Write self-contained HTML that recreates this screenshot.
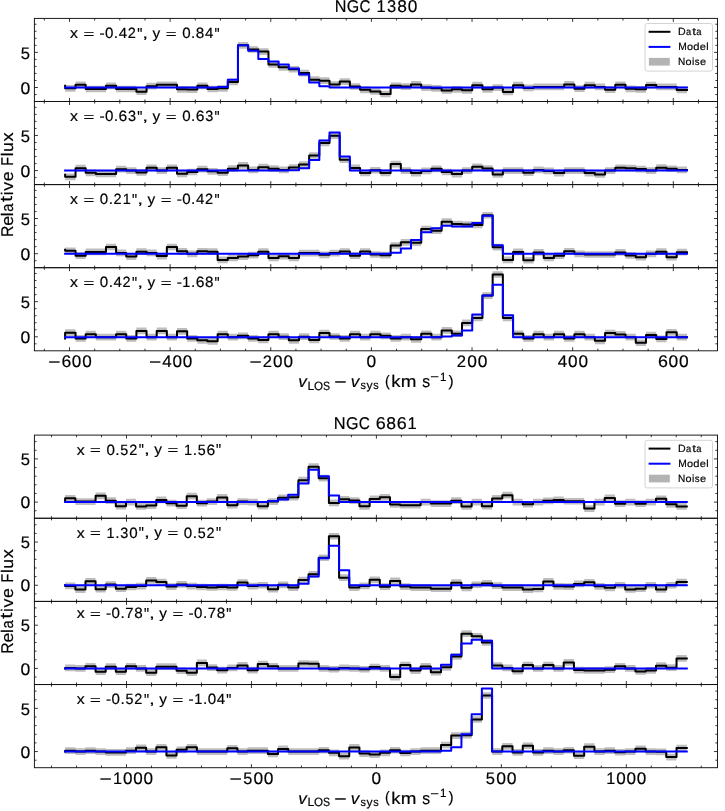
<!DOCTYPE html><html><head><meta charset="utf-8"><style>html,body{margin:0;padding:0;background:#fff;width:725px;height:811px;overflow:hidden;}svg{display:block;will-change:transform;filter:blur(0.3px);text-rendering:geometricPrecision;font-family:"Liberation Sans",sans-serif;}</style></head><body><svg width="725" height="811" viewBox="0 0 725 811">
<rect width="100%" height="100%" fill="#fff"/>
<defs>
<clipPath id="c00"><rect x="34.4" y="18.4" width="683.1" height="83.1"/></clipPath>
<clipPath id="c01"><rect x="34.4" y="101.5" width="683.1" height="83.1"/></clipPath>
<clipPath id="c02"><rect x="34.4" y="184.6" width="683.1" height="83.1"/></clipPath>
<clipPath id="c03"><rect x="34.4" y="267.7" width="683.1" height="83.10000000000002"/></clipPath>
<clipPath id="c10"><rect x="34.4" y="435.1" width="683.1" height="83.14999999999998"/></clipPath>
<clipPath id="c11"><rect x="34.4" y="518.25" width="683.1" height="83.14999999999998"/></clipPath>
<clipPath id="c12"><rect x="34.4" y="601.4" width="683.1" height="83.14999999999998"/></clipPath>
<clipPath id="c13"><rect x="34.4" y="684.55" width="683.1" height="83.15000000000009"/></clipPath>
</defs>
<g clip-path="url(#c00)"><path d="M65.10,84.94H75.55V81.48H85.69V85.64H95.83V85.64H105.97V82.52H116.11V85.64H126.25V85.64H136.40V88.41H146.55V82.86H156.70V81.48H166.85V81.48H177.00V85.98H187.16V86.26H197.32V82.45H207.47V85.64H217.63V84.94H227.80V78.57H237.96V41.98H248.13V46.13H258.29V48.21H268.46V61.17H278.64V63.95H288.81V65.89H298.98V69.70H309.16V76.28H319.34V77.32H329.52V81.13H339.70V78.22H349.89V83.14H360.07V86.47H370.26V88.13H380.45V90.63H390.64V82.38H400.83V83.21H411.03V81.06H421.22V84.25H431.42V84.94H441.62V87.16H451.83V85.98H462.03V87.02H472.23V81.82H482.44V85.98H492.65V84.25H502.86V88.55H513.07V81.82H523.29V84.60H533.51V83.56H543.72V83.56H553.94V83.56H564.17V81.06H574.39V85.29H584.61V81.82H594.84V83.56H605.07V86.33H615.30V81.48H625.53V85.43H635.77V85.98H646.01V81.76H656.24V83.56H666.48V83.56H676.72V86.61H686.97V93.31H676.72V90.26H666.48V90.26H656.24V88.46H646.01V92.68H635.77V92.13H625.53V88.18H615.30V93.03H605.07V90.26H594.84V88.52H584.61V91.99H574.39V87.76H564.17V90.26H553.94V90.26H543.72V90.26H533.51V91.30H523.29V88.52H513.07V95.25H502.86V90.95H492.65V92.68H482.44V88.52H472.23V93.72H462.03V92.68H451.83V93.86H441.62V91.64H431.42V90.95H421.22V87.76H411.03V89.91H400.83V89.08H390.64V97.33H380.45V94.83H370.26V93.17H360.07V89.84H349.89V84.92H339.70V87.83H329.52V84.02H319.34V82.98H309.16V76.40H298.98V72.59H288.81V70.65H278.64V67.87H268.46V54.91H258.29V52.84H248.13V48.68H237.96V85.27H227.80V91.64H217.63V92.34H207.47V89.15H197.32V92.96H187.16V92.68H177.00V88.18H166.85V88.18H156.70V89.56H146.55V95.11H136.40V92.34H126.25V92.34H116.11V89.22H105.97V92.34H95.83V92.34H85.69V88.18H75.55V91.64H65.10Z" fill="#bdbdbd" stroke="none"/><path d="M65.10,85.87V88.29H75.55V84.83H85.69V88.99H95.83V88.99H105.97V85.87H116.11V88.99H126.25V88.99H136.40V91.76H146.55V86.21H156.70V84.83H166.85V84.83H177.00V89.33H187.16V89.61H197.32V85.80H207.47V88.99H217.63V88.29H227.80V81.92H237.96V45.33H248.13V49.48H258.29V51.56H268.46V64.52H278.64V67.30H288.81V69.24H298.98V73.05H309.16V79.63H319.34V80.67H329.52V84.48H339.70V81.57H349.89V86.49H360.07V89.82H370.26V91.48H380.45V93.98H390.64V85.73H400.83V86.56H411.03V84.41H421.22V87.60H431.42V88.29H441.62V90.51H451.83V89.33H462.03V90.37H472.23V85.17H482.44V89.33H492.65V87.60H502.86V91.90H513.07V85.17H523.29V87.95H533.51V86.91H543.72V86.91H553.94V86.91H564.17V84.41H574.39V88.64H584.61V85.17H594.84V86.91H605.07V89.68H615.30V84.83H625.53V88.78H635.77V89.33H646.01V85.11H656.24V86.91H666.48V86.91H676.72V89.96H686.97" fill="none" stroke="#000" stroke-width="2.0" stroke-linejoin="round" stroke-linecap="square"/><path d="M65.10,87.60H75.55V87.60H85.69V87.60H95.83V87.60H105.97V87.60H116.11V87.60H126.25V87.60H136.40V87.60H146.55V87.60H156.70V87.60H166.85V87.60H177.00V87.60H187.16V87.60H197.32V87.60H207.47V87.60H217.63V86.91H227.80V79.63H237.96V45.33H248.13V50.73H258.29V58.98H268.46V61.47H278.64V64.52H288.81V68.54H298.98V74.57H309.16V82.40H319.34V86.21H329.52V87.60H339.70V87.60H349.89V87.60H360.07V87.60H370.26V87.60H380.45V87.60H390.64V87.60H400.83V87.60H411.03V87.60H421.22V87.60H431.42V87.60H441.62V87.60H451.83V87.60H462.03V87.60H472.23V87.60H482.44V87.60H492.65V87.60H502.86V87.60H513.07V87.60H523.29V87.60H533.51V87.60H543.72V87.60H553.94V87.60H564.17V87.60H574.39V87.60H584.61V87.60H594.84V87.60H605.07V87.60H615.30V87.60H625.53V87.60H635.77V87.60H646.01V87.60H656.24V87.60H666.48V87.60H676.72V87.60H686.97" fill="none" stroke="#0000ff" stroke-width="2.0" stroke-linejoin="round" stroke-linecap="square"/></g>
<g clip-path="url(#c01)"><path d="M65.10,173.49H75.55V164.82H85.69V169.47H95.83V170.65H105.97V170.65H116.11V165.86H126.25V167.25H136.40V169.12H146.55V164.48H156.70V167.25H166.85V164.48H177.00V170.51H187.16V168.64H197.32V165.86H207.47V167.94H217.63V169.33H227.80V165.31H237.96V162.05H248.13V166.56H258.29V163.78H268.46V165.31H278.64V166.56H288.81V164.13H298.98V161.22H309.16V152.14H319.34V139.53H329.52V132.39H339.70V156.37H349.89V164.55H360.07V169.54H370.26V166.90H380.45V169.54H390.64V160.74H400.83V167.25H411.03V169.68H421.22V167.60H431.42V165.52H441.62V168.64H451.83V170.72H462.03V167.25H472.23V163.44H482.44V165.17H492.65V171.06H502.86V167.25H513.07V167.25H523.29V169.33H533.51V166.56H543.72V167.60H553.94V169.68H564.17V167.25H574.39V167.25H584.61V169.68H594.84V171.06H605.07V167.25H615.30V164.48H625.53V164.82H635.77V165.73H646.01V167.25H656.24V164.34H666.48V165.38H676.72V166.56H686.97V173.26H676.72V172.08H666.48V171.04H656.24V173.95H646.01V172.43H635.77V171.52H625.53V171.18H615.30V173.95H605.07V177.76H594.84V176.38H584.61V173.95H574.39V173.95H564.17V176.38H553.94V174.30H543.72V173.26H533.51V176.03H523.29V173.95H513.07V173.95H502.86V177.76H492.65V171.87H482.44V170.14H472.23V173.95H462.03V177.41H451.83V175.34H441.62V172.22H431.42V174.30H421.22V176.38H411.03V173.95H400.83V167.44H390.64V176.24H380.45V173.60H370.26V176.24H360.07V171.25H349.89V163.07H339.70V139.09H329.52V146.23H319.34V158.84H309.16V167.92H298.98V170.83H288.81V173.26H278.64V172.01H268.46V170.48H258.29V173.26H248.13V168.75H237.96V172.01H227.80V176.03H217.63V174.64H207.47V172.56H197.32V175.34H187.16V177.21H177.00V171.18H166.85V173.95H156.70V171.18H146.55V175.82H136.40V173.95H126.25V172.56H116.11V177.35H105.97V177.35H95.83V176.17H85.69V171.52H75.55V180.19H65.10Z" fill="#bdbdbd" stroke="none"/><path d="M65.10,174.76V176.84H75.55V168.17H85.69V172.82H95.83V174.00H105.97V174.00H116.11V169.21H126.25V170.60H136.40V172.47H146.55V167.83H156.70V170.60H166.85V167.83H177.00V173.86H187.16V171.99H197.32V169.21H207.47V171.29H217.63V172.68H227.80V168.66H237.96V165.40H248.13V169.91H258.29V167.13H268.46V168.66H278.64V169.91H288.81V167.48H298.98V164.57H309.16V155.49H319.34V142.88H329.52V135.74H339.70V159.72H349.89V167.90H360.07V172.89H370.26V170.25H380.45V172.89H390.64V164.09H400.83V170.60H411.03V173.03H421.22V170.95H431.42V168.87H441.62V171.99H451.83V174.06H462.03V170.60H472.23V166.79H482.44V168.52H492.65V174.41H502.86V170.60H513.07V170.60H523.29V172.68H533.51V169.91H543.72V170.95H553.94V173.03H564.17V170.60H574.39V170.60H584.61V173.03H594.84V174.41H605.07V170.60H615.30V167.83H625.53V168.17H635.77V169.08H646.01V170.60H656.24V167.69H666.48V168.73H676.72V169.91H686.97" fill="none" stroke="#000" stroke-width="2.0" stroke-linejoin="round" stroke-linecap="square"/><path d="M65.10,170.60H75.55V170.60H85.69V170.60H95.83V170.60H105.97V170.60H116.11V170.60H126.25V170.60H136.40V170.60H146.55V170.60H156.70V170.60H166.85V170.60H177.00V170.60H187.16V170.60H197.32V170.60H207.47V170.60H217.63V170.60H227.80V170.60H237.96V170.60H248.13V170.60H258.29V170.60H268.46V170.60H278.64V170.60H288.81V170.25H298.98V168.31H309.16V160.00H319.34V140.59H329.52V132.49H339.70V156.39H349.89V170.60H360.07V170.60H370.26V170.60H380.45V170.60H390.64V170.60H400.83V170.60H411.03V170.60H421.22V170.60H431.42V170.60H441.62V170.60H451.83V170.60H462.03V170.60H472.23V170.60H482.44V170.60H492.65V170.60H502.86V170.60H513.07V170.60H523.29V170.60H533.51V170.60H543.72V170.60H553.94V170.60H564.17V170.60H574.39V170.60H584.61V170.60H594.84V170.60H605.07V170.60H615.30V170.60H625.53V170.60H635.77V170.60H646.01V170.60H656.24V170.60H666.48V170.60H676.72V170.60H686.97" fill="none" stroke="#0000ff" stroke-width="2.0" stroke-linejoin="round" stroke-linecap="square"/></g>
<g clip-path="url(#c02)"><path d="M65.10,247.47H75.55V252.32H85.69V248.58H95.83V248.58H105.97V243.66H116.11V249.62H126.25V253.22H136.40V248.37H146.55V249.62H156.70V252.74H166.85V243.66H177.00V248.02H187.16V250.45H197.32V248.02H207.47V248.37H217.63V256.55H227.80V254.61H237.96V253.22H248.13V251.84H258.29V248.37H268.46V254.61H278.64V252.88H288.81V254.61H298.98V249.76H309.16V249.76H319.34V251.49H329.52V249.76H339.70V248.23H349.89V252.32H360.07V248.23H370.26V251.14H380.45V251.84H390.64V242.13H400.83V239.02H411.03V239.36H421.22V225.64H431.42V227.37H441.62V218.29H451.83V220.65H462.03V221.14H472.23V221.55H482.44V211.92H492.65V243.87H502.86V256.55H513.07V248.58H523.29V256.89H533.51V249.06H543.72V254.61H553.94V252.32H564.17V247.89H574.39V250.45H584.61V251.14H594.84V251.14H605.07V251.14H615.30V249.06H625.53V252.11H635.77V253.91H646.01V250.45H656.24V248.37H666.48V253.91H676.72V248.79H686.97V255.49H676.72V260.62H666.48V255.07H656.24V257.15H646.01V260.62H635.77V258.81H625.53V255.76H615.30V257.84H605.07V257.84H594.84V257.84H584.61V257.15H574.39V254.59H564.17V259.02H553.94V261.31H543.72V255.76H533.51V263.59H523.29V255.28H513.07V263.25H502.86V250.57H492.65V218.62H482.44V228.25H472.23V227.84H462.03V227.35H451.83V224.99H441.62V234.07H431.42V232.34H421.22V246.06H411.03V245.72H400.83V248.83H390.64V258.54H380.45V257.84H370.26V254.93H360.07V259.02H349.89V254.93H339.70V256.46H329.52V258.19H319.34V256.46H309.16V256.46H298.98V261.31H288.81V259.58H278.64V261.31H268.46V255.07H258.29V258.54H248.13V259.92H237.96V261.31H227.80V263.25H217.63V255.07H207.47V254.72H197.32V257.15H187.16V254.72H177.00V250.36H166.85V259.44H156.70V256.32H146.55V255.07H136.40V259.92H126.25V256.32H116.11V250.36H105.97V255.28H95.83V255.28H85.69V259.02H75.55V254.17H65.10Z" fill="#bdbdbd" stroke="none"/><path d="M65.10,249.64V250.82H75.55V255.67H85.69V251.93H95.83V251.93H105.97V247.01H116.11V252.97H126.25V256.57H136.40V251.72H146.55V252.97H156.70V256.09H166.85V247.01H177.00V251.37H187.16V253.80H197.32V251.37H207.47V251.72H217.63V259.90H227.80V257.96H237.96V256.57H248.13V255.19H258.29V251.72H268.46V257.96H278.64V256.23H288.81V257.96H298.98V253.11H309.16V253.11H319.34V254.84H329.52V253.11H339.70V251.58H349.89V255.67H360.07V251.58H370.26V254.49H380.45V255.19H390.64V245.48H400.83V242.37H411.03V242.71H421.22V228.99H431.42V230.72H441.62V221.64H451.83V224.00H462.03V224.49H472.23V224.90H482.44V215.27H492.65V247.22H502.86V259.90H513.07V251.93H523.29V260.24H533.51V252.41H543.72V257.96H553.94V255.67H564.17V251.24H574.39V253.80H584.61V254.49H594.84V254.49H605.07V254.49H615.30V252.41H625.53V255.46H635.77V257.26H646.01V253.80H656.24V251.72H666.48V257.26H676.72V252.14H686.97" fill="none" stroke="#000" stroke-width="2.0" stroke-linejoin="round" stroke-linecap="square"/><path d="M65.10,253.80H75.55V253.80H85.69V253.80H95.83V253.80H105.97V253.80H116.11V253.80H126.25V253.80H136.40V253.80H146.55V253.80H156.70V253.80H166.85V253.80H177.00V253.80H187.16V253.80H197.32V253.80H207.47V253.80H217.63V253.80H227.80V253.80H237.96V253.80H248.13V253.80H258.29V253.80H268.46V253.80H278.64V253.80H288.81V253.80H298.98V253.80H309.16V253.80H319.34V253.80H329.52V253.80H339.70V253.80H349.89V253.80H360.07V253.80H370.26V253.80H380.45V253.80H390.64V252.76H400.83V248.39H411.03V240.08H421.22V232.32H431.42V228.23H441.62V225.66H451.83V226.50H462.03V226.50H472.23V222.89H482.44V215.82H492.65V245.21H502.86V253.80H513.07V253.80H523.29V253.80H533.51V253.80H543.72V253.80H553.94V253.80H564.17V253.80H574.39V253.80H584.61V253.80H594.84V253.80H605.07V253.80H615.30V253.80H625.53V253.80H635.77V253.80H646.01V253.80H656.24V253.80H666.48V253.80H676.72V253.80H686.97" fill="none" stroke="#0000ff" stroke-width="2.0" stroke-linejoin="round" stroke-linecap="square"/></g>
<g clip-path="url(#c03)"><path d="M65.10,329.35H75.55V335.03H85.69V330.87H95.83V333.85H105.97V333.85H116.11V330.87H126.25V335.03H136.40V327.61H146.55V333.85H156.70V327.61H166.85V333.85H177.00V327.96H187.16V335.03H197.32V336.97H207.47V338.01H217.63V330.87H227.80V333.85H237.96V332.46H248.13V335.03H258.29V336.62H268.46V330.87H278.64V333.36H288.81V336.97H298.98V333.36H309.16V336.62H319.34V329.69H329.52V333.16H339.70V335.03H349.89V330.87H360.07V333.85H370.26V330.87H380.45V332.46H390.64V335.03H400.83V333.85H411.03V335.93H421.22V330.38H431.42V333.85H441.62V327.06H451.83V330.38H462.03V319.57H472.23V314.58H482.44V292.27H492.65V271.13H502.86V314.58H513.07V330.38H523.29V335.03H533.51V330.87H543.72V333.85H553.94V330.87H564.17V335.03H574.39V330.87H584.61V333.85H594.84V337.45H605.07V329.69H615.30V331.08H625.53V333.85H635.77V339.39H646.01V331.77H656.24V335.58H666.48V329.00H676.72V333.85H686.97V340.55H676.72V335.70H666.48V342.28H656.24V338.47H646.01V346.09H635.77V340.55H625.53V337.78H615.30V336.39H605.07V344.15H594.84V340.55H584.61V337.57H574.39V341.73H564.17V337.57H553.94V340.55H543.72V337.57H533.51V341.73H523.29V337.09H513.07V321.28H502.86V277.83H492.65V298.97H482.44V321.28H472.23V326.27H462.03V337.09H451.83V333.76H441.62V340.55H431.42V337.09H421.22V342.63H411.03V340.55H400.83V341.73H390.64V339.16H380.45V337.57H370.26V340.55H360.07V337.57H349.89V341.73H339.70V339.86H329.52V336.39H319.34V343.32H309.16V340.06H298.98V343.67H288.81V340.06H278.64V337.57H268.46V343.32H258.29V341.73H248.13V339.16H237.96V340.55H227.80V337.57H217.63V344.71H207.47V343.67H197.32V341.73H187.16V334.66H177.00V340.55H166.85V334.31H156.70V340.55H146.55V334.31H136.40V341.73H126.25V337.57H116.11V340.55H105.97V340.55H95.83V337.57H85.69V341.73H75.55V336.05H65.10Z" fill="#bdbdbd" stroke="none"/><path d="M65.10,338.59V332.70H75.55V338.38H85.69V334.22H95.83V337.20H105.97V337.20H116.11V334.22H126.25V338.38H136.40V330.96H146.55V337.20H156.70V330.96H166.85V337.20H177.00V331.31H187.16V338.38H197.32V340.32H207.47V341.36H217.63V334.22H227.80V337.20H237.96V335.81H248.13V338.38H258.29V339.97H268.46V334.22H278.64V336.71H288.81V340.32H298.98V336.71H309.16V339.97H319.34V333.04H329.52V336.51H339.70V338.38H349.89V334.22H360.07V337.20H370.26V334.22H380.45V335.81H390.64V338.38H400.83V337.20H411.03V339.28H421.22V333.74H431.42V337.20H441.62V330.41H451.83V333.74H462.03V322.92H472.23V317.93H482.44V295.62H492.65V274.48H502.86V317.93H513.07V333.74H523.29V338.38H533.51V334.22H543.72V337.20H553.94V334.22H564.17V338.38H574.39V334.22H584.61V337.20H594.84V340.80H605.07V333.04H615.30V334.43H625.53V337.20H635.77V342.74H646.01V335.12H656.24V338.93H666.48V332.35H676.72V337.20H686.97" fill="none" stroke="#000" stroke-width="2.0" stroke-linejoin="round" stroke-linecap="square"/><path d="M65.10,337.20H75.55V337.20H85.69V337.20H95.83V337.20H105.97V337.20H116.11V337.20H126.25V337.20H136.40V337.20H146.55V337.20H156.70V337.20H166.85V337.20H177.00V337.20H187.16V337.20H197.32V337.20H207.47V337.20H217.63V337.20H227.80V337.20H237.96V337.20H248.13V337.20H258.29V337.20H268.46V337.20H278.64V337.20H288.81V337.20H298.98V337.20H309.16V337.20H319.34V337.20H329.52V337.20H339.70V337.20H349.89V337.20H360.07V337.20H370.26V337.20H380.45V337.20H390.64V337.20H400.83V337.20H411.03V337.20H421.22V337.20H431.42V337.20H441.62V336.51H451.83V335.47H462.03V330.41H472.23V314.61H482.44V295.62H492.65V284.81H502.86V315.37H513.07V337.20H523.29V337.20H533.51V337.20H543.72V337.20H553.94V337.20H564.17V337.20H574.39V337.20H584.61V337.20H594.84V337.20H605.07V337.20H615.30V337.20H625.53V337.20H635.77V337.20H646.01V337.20H656.24V337.20H666.48V337.20H676.72V337.20H686.97" fill="none" stroke="#0000ff" stroke-width="2.0" stroke-linejoin="round" stroke-linecap="square"/></g>
<path d="M44.34,101.5v-2.1M44.34,18.4v2.1M69.50,101.5v-3.5M69.50,18.4v3.5M94.66,101.5v-2.1M94.66,18.4v2.1M119.81,101.5v-2.1M119.81,18.4v2.1M144.97,101.5v-2.1M144.97,18.4v2.1M170.13,101.5v-3.5M170.13,18.4v3.5M195.29,101.5v-2.1M195.29,18.4v2.1M220.45,101.5v-2.1M220.45,18.4v2.1M245.61,101.5v-2.1M245.61,18.4v2.1M270.77,101.5v-3.5M270.77,18.4v3.5M295.92,101.5v-2.1M295.92,18.4v2.1M321.08,101.5v-2.1M321.08,18.4v2.1M346.24,101.5v-2.1M346.24,18.4v2.1M371.40,101.5v-3.5M371.40,18.4v3.5M396.56,101.5v-2.1M396.56,18.4v2.1M421.72,101.5v-2.1M421.72,18.4v2.1M446.88,101.5v-2.1M446.88,18.4v2.1M472.03,101.5v-3.5M472.03,18.4v3.5M497.19,101.5v-2.1M497.19,18.4v2.1M522.35,101.5v-2.1M522.35,18.4v2.1M547.51,101.5v-2.1M547.51,18.4v2.1M572.67,101.5v-3.5M572.67,18.4v3.5M597.83,101.5v-2.1M597.83,18.4v2.1M622.99,101.5v-2.1M622.99,18.4v2.1M648.14,101.5v-2.1M648.14,18.4v2.1M673.30,101.5v-3.5M673.30,18.4v3.5M698.46,101.5v-2.1M698.46,18.4v2.1M34.4,94.53h2.1M717.5,94.53h-2.1M34.4,87.50h3.5M717.5,87.50h-3.5M34.4,80.47h2.1M717.5,80.47h-2.1M34.4,73.44h2.1M717.5,73.44h-2.1M34.4,66.41h2.1M717.5,66.41h-2.1M34.4,59.38h2.1M717.5,59.38h-2.1M34.4,52.35h3.5M717.5,52.35h-3.5M34.4,45.32h2.1M717.5,45.32h-2.1M34.4,38.29h2.1M717.5,38.29h-2.1M34.4,31.26h2.1M717.5,31.26h-2.1M34.4,24.23h2.1M717.5,24.23h-2.1M44.34,184.6v-2.1M44.34,101.5v2.1M69.50,184.6v-3.5M69.50,101.5v3.5M94.66,184.6v-2.1M94.66,101.5v2.1M119.81,184.6v-2.1M119.81,101.5v2.1M144.97,184.6v-2.1M144.97,101.5v2.1M170.13,184.6v-3.5M170.13,101.5v3.5M195.29,184.6v-2.1M195.29,101.5v2.1M220.45,184.6v-2.1M220.45,101.5v2.1M245.61,184.6v-2.1M245.61,101.5v2.1M270.77,184.6v-3.5M270.77,101.5v3.5M295.92,184.6v-2.1M295.92,101.5v2.1M321.08,184.6v-2.1M321.08,101.5v2.1M346.24,184.6v-2.1M346.24,101.5v2.1M371.40,184.6v-3.5M371.40,101.5v3.5M396.56,184.6v-2.1M396.56,101.5v2.1M421.72,184.6v-2.1M421.72,101.5v2.1M446.88,184.6v-2.1M446.88,101.5v2.1M472.03,184.6v-3.5M472.03,101.5v3.5M497.19,184.6v-2.1M497.19,101.5v2.1M522.35,184.6v-2.1M522.35,101.5v2.1M547.51,184.6v-2.1M547.51,101.5v2.1M572.67,184.6v-3.5M572.67,101.5v3.5M597.83,184.6v-2.1M597.83,101.5v2.1M622.99,184.6v-2.1M622.99,101.5v2.1M648.14,184.6v-2.1M648.14,101.5v2.1M673.30,184.6v-3.5M673.30,101.5v3.5M698.46,184.6v-2.1M698.46,101.5v2.1M34.4,177.63h2.1M717.5,177.63h-2.1M34.4,170.60h3.5M717.5,170.60h-3.5M34.4,163.57h2.1M717.5,163.57h-2.1M34.4,156.54h2.1M717.5,156.54h-2.1M34.4,149.51h2.1M717.5,149.51h-2.1M34.4,142.48h2.1M717.5,142.48h-2.1M34.4,135.45h3.5M717.5,135.45h-3.5M34.4,128.42h2.1M717.5,128.42h-2.1M34.4,121.39h2.1M717.5,121.39h-2.1M34.4,114.36h2.1M717.5,114.36h-2.1M34.4,107.33h2.1M717.5,107.33h-2.1M44.34,267.7v-2.1M44.34,184.6v2.1M69.50,267.7v-3.5M69.50,184.6v3.5M94.66,267.7v-2.1M94.66,184.6v2.1M119.81,267.7v-2.1M119.81,184.6v2.1M144.97,267.7v-2.1M144.97,184.6v2.1M170.13,267.7v-3.5M170.13,184.6v3.5M195.29,267.7v-2.1M195.29,184.6v2.1M220.45,267.7v-2.1M220.45,184.6v2.1M245.61,267.7v-2.1M245.61,184.6v2.1M270.77,267.7v-3.5M270.77,184.6v3.5M295.92,267.7v-2.1M295.92,184.6v2.1M321.08,267.7v-2.1M321.08,184.6v2.1M346.24,267.7v-2.1M346.24,184.6v2.1M371.40,267.7v-3.5M371.40,184.6v3.5M396.56,267.7v-2.1M396.56,184.6v2.1M421.72,267.7v-2.1M421.72,184.6v2.1M446.88,267.7v-2.1M446.88,184.6v2.1M472.03,267.7v-3.5M472.03,184.6v3.5M497.19,267.7v-2.1M497.19,184.6v2.1M522.35,267.7v-2.1M522.35,184.6v2.1M547.51,267.7v-2.1M547.51,184.6v2.1M572.67,267.7v-3.5M572.67,184.6v3.5M597.83,267.7v-2.1M597.83,184.6v2.1M622.99,267.7v-2.1M622.99,184.6v2.1M648.14,267.7v-2.1M648.14,184.6v2.1M673.30,267.7v-3.5M673.30,184.6v3.5M698.46,267.7v-2.1M698.46,184.6v2.1M34.4,260.73h2.1M717.5,260.73h-2.1M34.4,253.70h3.5M717.5,253.70h-3.5M34.4,246.67h2.1M717.5,246.67h-2.1M34.4,239.64h2.1M717.5,239.64h-2.1M34.4,232.61h2.1M717.5,232.61h-2.1M34.4,225.58h2.1M717.5,225.58h-2.1M34.4,218.55h3.5M717.5,218.55h-3.5M34.4,211.52h2.1M717.5,211.52h-2.1M34.4,204.49h2.1M717.5,204.49h-2.1M34.4,197.46h2.1M717.5,197.46h-2.1M34.4,190.43h2.1M717.5,190.43h-2.1M44.34,350.8v-2.1M44.34,267.7v2.1M69.50,350.8v-3.5M69.50,267.7v3.5M94.66,350.8v-2.1M94.66,267.7v2.1M119.81,350.8v-2.1M119.81,267.7v2.1M144.97,350.8v-2.1M144.97,267.7v2.1M170.13,350.8v-3.5M170.13,267.7v3.5M195.29,350.8v-2.1M195.29,267.7v2.1M220.45,350.8v-2.1M220.45,267.7v2.1M245.61,350.8v-2.1M245.61,267.7v2.1M270.77,350.8v-3.5M270.77,267.7v3.5M295.92,350.8v-2.1M295.92,267.7v2.1M321.08,350.8v-2.1M321.08,267.7v2.1M346.24,350.8v-2.1M346.24,267.7v2.1M371.40,350.8v-3.5M371.40,267.7v3.5M396.56,350.8v-2.1M396.56,267.7v2.1M421.72,350.8v-2.1M421.72,267.7v2.1M446.88,350.8v-2.1M446.88,267.7v2.1M472.03,350.8v-3.5M472.03,267.7v3.5M497.19,350.8v-2.1M497.19,267.7v2.1M522.35,350.8v-2.1M522.35,267.7v2.1M547.51,350.8v-2.1M547.51,267.7v2.1M572.67,350.8v-3.5M572.67,267.7v3.5M597.83,350.8v-2.1M597.83,267.7v2.1M622.99,350.8v-2.1M622.99,267.7v2.1M648.14,350.8v-2.1M648.14,267.7v2.1M673.30,350.8v-3.5M673.30,267.7v3.5M698.46,350.8v-2.1M698.46,267.7v2.1M34.4,343.83h2.1M717.5,343.83h-2.1M34.4,336.80h3.5M717.5,336.80h-3.5M34.4,329.77h2.1M717.5,329.77h-2.1M34.4,322.74h2.1M717.5,322.74h-2.1M34.4,315.71h2.1M717.5,315.71h-2.1M34.4,308.68h2.1M717.5,308.68h-2.1M34.4,301.65h3.5M717.5,301.65h-3.5M34.4,294.62h2.1M717.5,294.62h-2.1M34.4,287.59h2.1M717.5,287.59h-2.1M34.4,280.56h2.1M717.5,280.56h-2.1M34.4,273.53h2.1M717.5,273.53h-2.1" stroke="#111" stroke-width="0.85" fill="none"/>
<rect x="34.4" y="18.4" width="683.1" height="83.1" fill="none" stroke="#111" stroke-width="0.95"/>
<rect x="34.4" y="101.5" width="683.1" height="83.1" fill="none" stroke="#111" stroke-width="0.95"/>
<rect x="34.4" y="184.6" width="683.1" height="83.1" fill="none" stroke="#111" stroke-width="0.95"/>
<rect x="34.4" y="267.7" width="683.1" height="83.10000000000002" fill="none" stroke="#111" stroke-width="0.95"/>
<rect x="645.0" y="23.50" width="67.5" height="47.6" rx="2.2" fill="#fff" fill-opacity="0.8" stroke="#d4d4d4" stroke-width="1"/>
<path d="M648.6,31.80H670.4" stroke="#000" stroke-width="2.0"/>
<path d="M648.6,46.90H670.4" stroke="#0000ff" stroke-width="2.0"/>
<rect x="648.9" y="57.90" width="20.9" height="7.7" fill="#b3b3b3"/>
<text transform="translate(678.02,35.30) scale(0.1062,0.1041)" style="font-size:100px" fill="#000" stroke="#000" stroke-width="1.71">D</text>
<text transform="translate(686.03,35.34) scale(0.0927,0.1029)" style="font-size:100px" fill="#000" stroke="#000" stroke-width="1.84">a</text>
<text transform="translate(692.18,35.22) scale(0.1370,0.1055)" style="font-size:100px" fill="#000" stroke="#000" stroke-width="1.50">t</text>
<text transform="translate(696.35,35.34) scale(0.0927,0.1029)" style="font-size:100px" fill="#000" stroke="#000" stroke-width="1.84">a</text>
<text transform="translate(678.16,49.90) scale(0.1024,0.1041)" style="font-size:100px" fill="#000" stroke="#000" stroke-width="1.74">M</text>
<text transform="translate(686.94,49.94) scale(0.1089,0.1029)" style="font-size:100px" fill="#000" stroke="#000" stroke-width="1.70">o</text>
<text transform="translate(693.19,49.94) scale(0.1115,0.1033)" style="font-size:100px" fill="#000" stroke="#000" stroke-width="1.68">d</text>
<text transform="translate(699.70,49.94) scale(0.1106,0.1029)" style="font-size:100px" fill="#000" stroke="#000" stroke-width="1.69">e</text>
<text transform="translate(706.17,49.90) scale(0.1053,0.1027)" style="font-size:100px" fill="#000" stroke="#000" stroke-width="1.73">l</text>
<text transform="translate(678.07,64.90) scale(0.1009,0.1041)" style="font-size:100px" fill="#000" stroke="#000" stroke-width="1.76">N</text>
<text transform="translate(685.62,64.94) scale(0.1082,0.1029)" style="font-size:100px" fill="#000" stroke="#000" stroke-width="1.71">o</text>
<text transform="translate(692.01,64.90) scale(0.1047,0.1027)" style="font-size:100px" fill="#000" stroke="#000" stroke-width="1.74">i</text>
<text transform="translate(694.87,64.94) scale(0.0971,0.1029)" style="font-size:100px" fill="#000" stroke="#000" stroke-width="1.80">s</text>
<text transform="translate(699.97,64.94) scale(0.1099,0.1029)" style="font-size:100px" fill="#000" stroke="#000" stroke-width="1.69">e</text>
<text transform="translate(334.76,11.80) scale(0.1621,0.1699)" style="font-size:100px" fill="#000" stroke="#000" stroke-width="1.08">N</text>
<text transform="translate(346.84,11.87) scale(0.1598,0.1713)" style="font-size:100px" fill="#000" stroke="#000" stroke-width="1.09">G</text>
<text transform="translate(359.56,11.87) scale(0.1526,0.1713)" style="font-size:100px" fill="#000" stroke="#000" stroke-width="1.11">C</text>
<text transform="translate(376.61,11.80) scale(0.1646,0.1699)" style="font-size:100px" fill="#000" stroke="#000" stroke-width="1.08">1</text>
<text transform="translate(387.06,11.87) scale(0.1653,0.1713)" style="font-size:100px" fill="#000" stroke="#000" stroke-width="1.07">3</text>
<text transform="translate(397.23,11.87) scale(0.1740,0.1713)" style="font-size:100px" fill="#000" stroke="#000" stroke-width="1.04">8</text>
<text transform="translate(407.65,11.87) scale(0.1730,0.1713)" style="font-size:100px" fill="#000" stroke="#000" stroke-width="1.05">0</text>
<text transform="translate(70.00,38.20) scale(0.1593,0.1453)" style="font-size:100px" fill="#000" stroke="#000" stroke-width="1.18">x</text>
<text transform="translate(83.39,37.84) scale(0.1855,0.1226)" style="font-size:100px" fill="#000" stroke="#000" stroke-width="1.19">=</text>
<text transform="translate(99.41,38.20) scale(0.1552,0.1445)" style="font-size:100px" fill="#000" stroke="#000" stroke-width="1.20">-</text>
<text transform="translate(104.89,38.26) scale(0.1517,0.1499)" style="font-size:100px" fill="#000" stroke="#000" stroke-width="1.19">0</text>
<text transform="translate(113.80,38.20) scale(0.1547,0.1628)" style="font-size:100px" fill="#000" stroke="#000" stroke-width="1.13">.</text>
<text transform="translate(118.63,38.20) scale(0.1505,0.1487)" style="font-size:100px" fill="#000" stroke="#000" stroke-width="1.20">4</text>
<text transform="translate(127.68,38.20) scale(0.1458,0.1490)" style="font-size:100px" fill="#000" stroke="#000" stroke-width="1.22">2</text>
<text transform="translate(137.25,39.93) scale(0.1434,0.1738)" style="font-size:100px" fill="#000" stroke="#000" stroke-width="1.14">&quot;</text>
<text transform="translate(142.32,37.99) scale(0.2096,0.1430)" style="font-size:100px" fill="#000" stroke="#000" stroke-width="1.04">,</text>
<text transform="translate(152.60,38.12) scale(0.1543,0.1438)" style="font-size:100px" fill="#000" stroke="#000" stroke-width="1.21">y</text>
<text transform="translate(165.84,37.84) scale(0.1855,0.1226)" style="font-size:100px" fill="#000" stroke="#000" stroke-width="1.19">=</text>
<text transform="translate(182.16,38.26) scale(0.1517,0.1499)" style="font-size:100px" fill="#000" stroke="#000" stroke-width="1.19">0</text>
<text transform="translate(191.07,38.20) scale(0.1547,0.1628)" style="font-size:100px" fill="#000" stroke="#000" stroke-width="1.13">.</text>
<text transform="translate(195.84,38.26) scale(0.1526,0.1499)" style="font-size:100px" fill="#000" stroke="#000" stroke-width="1.19">8</text>
<text transform="translate(205.02,38.20) scale(0.1505,0.1487)" style="font-size:100px" fill="#000" stroke="#000" stroke-width="1.20">4</text>
<text transform="translate(214.52,39.93) scale(0.1434,0.1738)" style="font-size:100px" fill="#000" stroke="#000" stroke-width="1.14">&quot;</text>
<text transform="translate(70.00,121.30) scale(0.1593,0.1453)" style="font-size:100px" fill="#000" stroke="#000" stroke-width="1.18">x</text>
<text transform="translate(83.39,120.94) scale(0.1855,0.1226)" style="font-size:100px" fill="#000" stroke="#000" stroke-width="1.19">=</text>
<text transform="translate(99.41,121.30) scale(0.1552,0.1445)" style="font-size:100px" fill="#000" stroke="#000" stroke-width="1.20">-</text>
<text transform="translate(104.89,121.36) scale(0.1517,0.1499)" style="font-size:100px" fill="#000" stroke="#000" stroke-width="1.19">0</text>
<text transform="translate(113.80,121.30) scale(0.1547,0.1628)" style="font-size:100px" fill="#000" stroke="#000" stroke-width="1.13">.</text>
<text transform="translate(118.47,121.36) scale(0.1558,0.1499)" style="font-size:100px" fill="#000" stroke="#000" stroke-width="1.18">6</text>
<text transform="translate(127.91,121.36) scale(0.1449,0.1499)" style="font-size:100px" fill="#000" stroke="#000" stroke-width="1.22">3</text>
<text transform="translate(137.25,123.03) scale(0.1434,0.1738)" style="font-size:100px" fill="#000" stroke="#000" stroke-width="1.14">&quot;</text>
<text transform="translate(142.32,121.09) scale(0.2096,0.1430)" style="font-size:100px" fill="#000" stroke="#000" stroke-width="1.04">,</text>
<text transform="translate(152.60,121.22) scale(0.1543,0.1438)" style="font-size:100px" fill="#000" stroke="#000" stroke-width="1.21">y</text>
<text transform="translate(165.84,120.94) scale(0.1855,0.1226)" style="font-size:100px" fill="#000" stroke="#000" stroke-width="1.19">=</text>
<text transform="translate(182.16,121.36) scale(0.1517,0.1499)" style="font-size:100px" fill="#000" stroke="#000" stroke-width="1.19">0</text>
<text transform="translate(191.07,121.30) scale(0.1547,0.1628)" style="font-size:100px" fill="#000" stroke="#000" stroke-width="1.13">.</text>
<text transform="translate(195.74,121.36) scale(0.1558,0.1499)" style="font-size:100px" fill="#000" stroke="#000" stroke-width="1.18">6</text>
<text transform="translate(205.17,121.36) scale(0.1449,0.1499)" style="font-size:100px" fill="#000" stroke="#000" stroke-width="1.22">3</text>
<text transform="translate(214.52,123.03) scale(0.1434,0.1738)" style="font-size:100px" fill="#000" stroke="#000" stroke-width="1.14">&quot;</text>
<text transform="translate(70.00,204.20) scale(0.1593,0.1453)" style="font-size:100px" fill="#000" stroke="#000" stroke-width="1.18">x</text>
<text transform="translate(83.39,203.84) scale(0.1855,0.1226)" style="font-size:100px" fill="#000" stroke="#000" stroke-width="1.19">=</text>
<text transform="translate(99.72,204.26) scale(0.1517,0.1499)" style="font-size:100px" fill="#000" stroke="#000" stroke-width="1.19">0</text>
<text transform="translate(108.63,204.20) scale(0.1547,0.1628)" style="font-size:100px" fill="#000" stroke="#000" stroke-width="1.13">.</text>
<text transform="translate(113.38,204.20) scale(0.1458,0.1490)" style="font-size:100px" fill="#000" stroke="#000" stroke-width="1.22">2</text>
<text transform="translate(122.69,204.20) scale(0.1442,0.1487)" style="font-size:100px" fill="#000" stroke="#000" stroke-width="1.23">1</text>
<text transform="translate(132.08,205.93) scale(0.1434,0.1738)" style="font-size:100px" fill="#000" stroke="#000" stroke-width="1.14">&quot;</text>
<text transform="translate(137.14,203.99) scale(0.2096,0.1430)" style="font-size:100px" fill="#000" stroke="#000" stroke-width="1.04">,</text>
<text transform="translate(147.43,204.12) scale(0.1543,0.1438)" style="font-size:100px" fill="#000" stroke="#000" stroke-width="1.21">y</text>
<text transform="translate(160.66,203.84) scale(0.1855,0.1226)" style="font-size:100px" fill="#000" stroke="#000" stroke-width="1.19">=</text>
<text transform="translate(176.68,204.20) scale(0.1552,0.1445)" style="font-size:100px" fill="#000" stroke="#000" stroke-width="1.20">-</text>
<text transform="translate(182.16,204.26) scale(0.1517,0.1499)" style="font-size:100px" fill="#000" stroke="#000" stroke-width="1.19">0</text>
<text transform="translate(191.07,204.20) scale(0.1547,0.1628)" style="font-size:100px" fill="#000" stroke="#000" stroke-width="1.13">.</text>
<text transform="translate(195.89,204.20) scale(0.1505,0.1487)" style="font-size:100px" fill="#000" stroke="#000" stroke-width="1.20">4</text>
<text transform="translate(204.95,204.20) scale(0.1458,0.1490)" style="font-size:100px" fill="#000" stroke="#000" stroke-width="1.22">2</text>
<text transform="translate(214.52,205.93) scale(0.1434,0.1738)" style="font-size:100px" fill="#000" stroke="#000" stroke-width="1.14">&quot;</text>
<text transform="translate(70.00,287.20) scale(0.1593,0.1453)" style="font-size:100px" fill="#000" stroke="#000" stroke-width="1.18">x</text>
<text transform="translate(83.39,286.84) scale(0.1855,0.1226)" style="font-size:100px" fill="#000" stroke="#000" stroke-width="1.19">=</text>
<text transform="translate(99.72,287.26) scale(0.1517,0.1499)" style="font-size:100px" fill="#000" stroke="#000" stroke-width="1.19">0</text>
<text transform="translate(108.63,287.20) scale(0.1547,0.1628)" style="font-size:100px" fill="#000" stroke="#000" stroke-width="1.13">.</text>
<text transform="translate(113.45,287.20) scale(0.1505,0.1487)" style="font-size:100px" fill="#000" stroke="#000" stroke-width="1.20">4</text>
<text transform="translate(122.51,287.20) scale(0.1458,0.1490)" style="font-size:100px" fill="#000" stroke="#000" stroke-width="1.22">2</text>
<text transform="translate(132.08,288.93) scale(0.1434,0.1738)" style="font-size:100px" fill="#000" stroke="#000" stroke-width="1.14">&quot;</text>
<text transform="translate(137.14,286.99) scale(0.2096,0.1430)" style="font-size:100px" fill="#000" stroke="#000" stroke-width="1.04">,</text>
<text transform="translate(147.43,287.12) scale(0.1543,0.1438)" style="font-size:100px" fill="#000" stroke="#000" stroke-width="1.21">y</text>
<text transform="translate(160.66,286.84) scale(0.1855,0.1226)" style="font-size:100px" fill="#000" stroke="#000" stroke-width="1.19">=</text>
<text transform="translate(176.68,287.20) scale(0.1552,0.1445)" style="font-size:100px" fill="#000" stroke="#000" stroke-width="1.20">-</text>
<text transform="translate(182.33,287.20) scale(0.1442,0.1487)" style="font-size:100px" fill="#000" stroke="#000" stroke-width="1.23">1</text>
<text transform="translate(191.07,287.20) scale(0.1547,0.1628)" style="font-size:100px" fill="#000" stroke="#000" stroke-width="1.13">.</text>
<text transform="translate(195.74,287.26) scale(0.1558,0.1499)" style="font-size:100px" fill="#000" stroke="#000" stroke-width="1.18">6</text>
<text transform="translate(204.96,287.26) scale(0.1526,0.1499)" style="font-size:100px" fill="#000" stroke="#000" stroke-width="1.19">8</text>
<text transform="translate(214.52,288.93) scale(0.1434,0.1738)" style="font-size:100px" fill="#000" stroke="#000" stroke-width="1.14">&quot;</text>
<text transform="translate(20.50,93.67) scale(0.1759,0.1670)" style="font-size:100px" fill="#000" stroke="#000" stroke-width="1.05">0</text>
<text transform="translate(20.83,58.62) scale(0.1663,0.1666)" style="font-size:100px" fill="#000" stroke="#000" stroke-width="1.08">5</text>
<text transform="translate(20.50,176.77) scale(0.1759,0.1670)" style="font-size:100px" fill="#000" stroke="#000" stroke-width="1.05">0</text>
<text transform="translate(20.83,141.72) scale(0.1663,0.1666)" style="font-size:100px" fill="#000" stroke="#000" stroke-width="1.08">5</text>
<text transform="translate(20.50,259.87) scale(0.1759,0.1670)" style="font-size:100px" fill="#000" stroke="#000" stroke-width="1.05">0</text>
<text transform="translate(20.83,224.82) scale(0.1663,0.1666)" style="font-size:100px" fill="#000" stroke="#000" stroke-width="1.08">5</text>
<text transform="translate(20.50,342.97) scale(0.1759,0.1670)" style="font-size:100px" fill="#000" stroke="#000" stroke-width="1.05">0</text>
<text transform="translate(20.83,307.92) scale(0.1663,0.1666)" style="font-size:100px" fill="#000" stroke="#000" stroke-width="1.08">5</text>
<text transform="translate(48.25,368.19) scale(0.2095,0.1775)" style="font-size:100px" fill="#000" stroke="#000" stroke-width="0.93">−</text>
<text transform="translate(61.42,367.27) scale(0.1759,0.1670)" style="font-size:100px" fill="#000" stroke="#000" stroke-width="1.05">6</text>
<text transform="translate(71.83,367.27) scale(0.1712,0.1670)" style="font-size:100px" fill="#000" stroke="#000" stroke-width="1.06">0</text>
<text transform="translate(82.14,367.27) scale(0.1712,0.1670)" style="font-size:100px" fill="#000" stroke="#000" stroke-width="1.06">0</text>
<text transform="translate(148.88,368.19) scale(0.2095,0.1775)" style="font-size:100px" fill="#000" stroke="#000" stroke-width="0.93">−</text>
<text transform="translate(162.23,367.20) scale(0.1699,0.1656)" style="font-size:100px" fill="#000" stroke="#000" stroke-width="1.07">4</text>
<text transform="translate(172.47,367.27) scale(0.1712,0.1670)" style="font-size:100px" fill="#000" stroke="#000" stroke-width="1.06">0</text>
<text transform="translate(182.77,367.27) scale(0.1712,0.1670)" style="font-size:100px" fill="#000" stroke="#000" stroke-width="1.06">0</text>
<text transform="translate(249.52,368.19) scale(0.2095,0.1775)" style="font-size:100px" fill="#000" stroke="#000" stroke-width="0.93">−</text>
<text transform="translate(262.78,367.20) scale(0.1646,0.1661)" style="font-size:100px" fill="#000" stroke="#000" stroke-width="1.09">2</text>
<text transform="translate(273.10,367.27) scale(0.1712,0.1670)" style="font-size:100px" fill="#000" stroke="#000" stroke-width="1.06">0</text>
<text transform="translate(283.40,367.27) scale(0.1712,0.1670)" style="font-size:100px" fill="#000" stroke="#000" stroke-width="1.06">0</text>
<text transform="translate(366.60,367.27) scale(0.1738,0.1670)" style="font-size:100px" fill="#000" stroke="#000" stroke-width="1.06">0</text>
<text transform="translate(456.70,367.20) scale(0.1671,0.1661)" style="font-size:100px" fill="#000" stroke="#000" stroke-width="1.08">2</text>
<text transform="translate(467.18,367.27) scale(0.1739,0.1670)" style="font-size:100px" fill="#000" stroke="#000" stroke-width="1.06">0</text>
<text transform="translate(477.64,367.27) scale(0.1739,0.1670)" style="font-size:100px" fill="#000" stroke="#000" stroke-width="1.06">0</text>
<text transform="translate(557.78,367.20) scale(0.1704,0.1656)" style="font-size:100px" fill="#000" stroke="#000" stroke-width="1.07">4</text>
<text transform="translate(568.05,367.27) scale(0.1717,0.1670)" style="font-size:100px" fill="#000" stroke="#000" stroke-width="1.06">0</text>
<text transform="translate(578.38,367.27) scale(0.1717,0.1670)" style="font-size:100px" fill="#000" stroke="#000" stroke-width="1.06">0</text>
<text transform="translate(657.91,367.27) scale(0.1784,0.1670)" style="font-size:100px" fill="#000" stroke="#000" stroke-width="1.04">6</text>
<text transform="translate(668.47,367.27) scale(0.1736,0.1670)" style="font-size:100px" fill="#000" stroke="#000" stroke-width="1.06">0</text>
<text transform="translate(678.92,367.27) scale(0.1736,0.1670)" style="font-size:100px" fill="#000" stroke="#000" stroke-width="1.06">0</text>
<text transform="translate(298.26,386.80) scale(0.1706,0.1661)" style="font-style:italic;font-size:100px" fill="#000" stroke="#000" stroke-width="1.07">v</text>
<text transform="translate(307.49,389.60) scale(0.1218,0.1189)" style="font-size:100px" fill="#000" stroke="#000" stroke-width="1.50">L</text>
<text transform="translate(314.01,389.65) scale(0.1165,0.1199)" style="font-size:100px" fill="#000" stroke="#000" stroke-width="1.52">O</text>
<text transform="translate(323.06,389.65) scale(0.1055,0.1199)" style="font-size:100px" fill="#000" stroke="#000" stroke-width="1.60">S</text>
<text transform="translate(334.34,387.81) scale(0.2124,0.1821)" style="font-size:100px" fill="#000" stroke="#000" stroke-width="0.92">−</text>
<text transform="translate(350.86,386.80) scale(0.1706,0.1661)" style="font-style:italic;font-size:100px" fill="#000" stroke="#000" stroke-width="1.07">v</text>
<text transform="translate(360.50,389.35) scale(0.1085,0.1176)" style="font-size:100px" fill="#000" stroke="#000" stroke-width="1.59">s</text>
<text transform="translate(366.41,389.24) scale(0.1223,0.1150)" style="font-size:100px" fill="#000" stroke="#000" stroke-width="1.52">y</text>
<text transform="translate(373.15,389.35) scale(0.1085,0.1176)" style="font-size:100px" fill="#000" stroke="#000" stroke-width="1.59">s</text>
<text transform="translate(385.02,385.71) scale(0.1414,0.1527)" style="font-size:100px" fill="#000" stroke="#000" stroke-width="1.22">(</text>
<text transform="translate(391.17,386.80) scale(0.1850,0.1677)" style="font-size:100px" fill="#000" stroke="#000" stroke-width="1.02">k</text>
<text transform="translate(400.70,386.80) scale(0.1885,0.1667)" style="font-size:100px" fill="#000" stroke="#000" stroke-width="1.02">m</text>
<text transform="translate(422.28,386.87) scale(0.1574,0.1680)" style="font-size:100px" fill="#000" stroke="#000" stroke-width="1.11">s</text>
<text transform="translate(430.36,381.31) scale(0.1488,0.1274)" style="font-size:100px" fill="#000" stroke="#000" stroke-width="1.31">−</text>
<text transform="translate(439.93,380.60) scale(0.1157,0.1189)" style="font-size:100px" fill="#000" stroke="#000" stroke-width="1.53">1</text>
<text transform="translate(448.59,385.71) scale(0.1524,0.1527)" style="font-size:100px" fill="#000" stroke="#000" stroke-width="1.18">)</text>
<text transform="translate(12.60,237.09) rotate(-90) scale(0.1570,0.1699)" style="font-size:100px" fill="#000" stroke="#000" stroke-width="1.10">R</text>
<text transform="translate(12.67,225.86) rotate(-90) scale(0.1769,0.1680)" style="font-size:100px" fill="#000" stroke="#000" stroke-width="1.04">e</text>
<text transform="translate(12.60,216.25) rotate(-90) scale(0.1686,0.1677)" style="font-size:100px" fill="#000" stroke="#000" stroke-width="1.07">l</text>
<text transform="translate(12.67,211.76) rotate(-90) scale(0.1479,0.1680)" style="font-size:100px" fill="#000" stroke="#000" stroke-width="1.14">a</text>
<text transform="translate(12.47,201.95) rotate(-90) scale(0.2185,0.1723)" style="font-size:100px" fill="#000" stroke="#000" stroke-width="0.93">t</text>
<text transform="translate(12.60,195.22) rotate(-90) scale(0.1686,0.1677)" style="font-size:100px" fill="#000" stroke="#000" stroke-width="1.07">i</text>
<text transform="translate(12.60,190.69) rotate(-90) scale(0.1781,0.1661)" style="font-size:100px" fill="#000" stroke="#000" stroke-width="1.05">v</text>
<text transform="translate(12.67,181.24) rotate(-90) scale(0.1769,0.1680)" style="font-size:100px" fill="#000" stroke="#000" stroke-width="1.04">e</text>
<text transform="translate(12.60,165.67) rotate(-90) scale(0.1412,0.1699)" style="font-size:100px" fill="#000" stroke="#000" stroke-width="1.16">F</text>
<text transform="translate(12.60,156.26) rotate(-90) scale(0.1686,0.1677)" style="font-size:100px" fill="#000" stroke="#000" stroke-width="1.07">l</text>
<text transform="translate(12.67,151.88) rotate(-90) scale(0.1764,0.1674)" style="font-size:100px" fill="#000" stroke="#000" stroke-width="1.05">u</text>
<text transform="translate(12.60,141.47) rotate(-90) scale(0.1820,0.1661)" style="font-size:100px" fill="#000" stroke="#000" stroke-width="1.04">x</text>
<g clip-path="url(#c10)"><path d="M65.10,494.95H75.37V498.23H85.48V498.23H95.59V492.44H105.70V497.37H115.82V502.81H125.94V498.75H136.06V503.07H146.18V502.21H156.31V496.59H166.44V499.87H176.57V502.38H186.71V492.87H196.85V499.87H206.99V498.23H217.13V494.08H227.28V501.86H237.43V498.23H247.58V498.75H257.74V502.81H267.90V498.23H278.06V494.43H288.22V493.91H298.39V476.80H308.56V463.33H318.73V474.82H328.90V499.61H339.08V495.99H349.26V497.19H359.45V502.98H369.63V495.55H379.82V494.00H390.01V501.17H400.21V501.86H410.40V501.86H420.60V498.75H430.81V500.22H441.01V500.22H451.22V497.37H461.43V503.16H471.65V498.75H481.87V502.81H492.08V495.12H502.31V491.84H512.53V498.75H522.76V500.91H532.99V498.75H543.23V497.45H553.46V496.59H563.70V497.89H573.94V497.89H584.19V505.23H594.44V498.75H604.69V494.60H614.94V500.31H625.20V498.75H635.46V500.31H645.72V498.75H655.98V495.47H666.25V501.00H676.52V503.07H686.79V509.77H676.52V507.70H666.25V502.17H655.98V505.45H645.72V507.01H635.46V505.45H625.20V507.01H614.94V501.30H604.69V505.45H594.44V511.93H584.19V504.59H573.94V504.59H563.70V503.29H553.46V504.15H543.23V505.45H532.99V507.61H522.76V505.45H512.53V498.54H502.31V501.82H492.08V509.51H481.87V505.45H471.65V509.86H461.43V504.07H451.22V506.92H441.01V506.92H430.81V505.45H420.60V508.56H410.40V508.56H400.21V507.87H390.01V500.70H379.82V502.25H369.63V509.68H359.45V503.89H349.26V502.69H339.08V506.31H328.90V481.52H318.73V470.03H308.56V483.50H298.39V500.61H288.22V501.13H278.06V504.93H267.90V509.51H257.74V505.45H247.58V504.93H237.43V508.56H227.28V500.78H217.13V504.93H206.99V506.57H196.85V499.57H186.71V509.08H176.57V506.57H166.44V503.29H156.31V508.91H146.18V509.77H136.06V505.45H125.94V509.51H115.82V504.07H105.70V499.14H95.59V504.93H85.48V504.93H75.37V501.65H65.10Z" fill="#bdbdbd" stroke="none"/><path d="M65.10,501.24V498.30H75.37V501.58H85.48V501.58H95.59V495.79H105.70V500.72H115.82V506.16H125.94V502.10H136.06V506.42H146.18V505.56H156.31V499.94H166.44V503.22H176.57V505.73H186.71V496.22H196.85V503.22H206.99V501.58H217.13V497.43H227.28V505.21H237.43V501.58H247.58V502.10H257.74V506.16H267.90V501.58H278.06V497.78H288.22V497.26H298.39V480.15H308.56V466.68H318.73V478.17H328.90V502.96H339.08V499.34H349.26V500.54H359.45V506.33H369.63V498.90H379.82V497.35H390.01V504.52H400.21V505.21H410.40V505.21H420.60V502.10H430.81V503.57H441.01V503.57H451.22V500.72H461.43V506.51H471.65V502.10H481.87V506.16H492.08V498.47H502.31V495.19H512.53V502.10H522.76V504.26H532.99V502.10H543.23V500.80H553.46V499.94H563.70V501.24H573.94V501.24H584.19V508.58H594.44V502.10H604.69V497.95H614.94V503.66H625.20V502.10H635.46V503.66H645.72V502.10H655.98V498.82H666.25V504.35H676.52V506.42H686.79" fill="none" stroke="#000" stroke-width="2.0" stroke-linejoin="round" stroke-linecap="square"/><path d="M65.10,502.10H75.37V502.10H85.48V502.10H95.59V502.10H105.70V502.10H115.82V502.10H125.94V502.10H136.06V502.10H146.18V502.10H156.31V502.10H166.44V502.10H176.57V502.10H186.71V502.10H196.85V502.10H206.99V502.10H217.13V502.10H227.28V502.10H237.43V502.10H247.58V502.10H257.74V502.10H267.90V500.89H278.06V499.51H288.22V494.76H298.39V483.44H308.56V469.87H318.73V476.18H328.90V495.53H339.08V502.10H349.26V502.10H359.45V502.10H369.63V502.10H379.82V502.10H390.01V502.10H400.21V502.10H410.40V502.10H420.60V502.10H430.81V502.10H441.01V502.10H451.22V502.10H461.43V502.10H471.65V502.10H481.87V502.10H492.08V502.10H502.31V502.10H512.53V502.10H522.76V502.10H532.99V502.10H543.23V502.10H553.46V502.10H563.70V502.10H573.94V502.10H584.19V502.10H594.44V502.10H604.69V502.10H614.94V502.10H625.20V502.10H635.46V502.10H645.72V502.10H655.98V502.10H666.25V502.10H676.52V502.10H686.79" fill="none" stroke="#0000ff" stroke-width="2.0" stroke-linejoin="round" stroke-linecap="square"/></g>
<g clip-path="url(#c11)"><path d="M65.10,582.59H75.37V586.22H85.48V577.93H95.59V585.87H105.70V581.21H115.82V585.36H125.94V583.63H136.06V582.76H146.18V577.06H156.31V578.70H166.44V583.20H176.57V581.04H186.71V582.76H196.85V583.63H206.99V584.06H217.13V583.63H227.28V584.06H237.43V579.22H247.58V582.76H257.74V581.90H267.90V585.87H278.06V581.47H288.22V584.23H298.39V576.72H308.56V571.01H318.73V554.42H328.90V532.91H339.08V574.30H349.26V584.23H359.45V582.59H369.63V576.46H379.82V583.37H390.01V577.58H400.21V583.20H410.40V584.23H420.60V584.23H430.81V585.36H441.01V585.36H451.22V579.31H461.43V584.49H471.65V581.38H481.87V580.09H492.08V582.33H502.31V584.23H512.53V584.23H522.76V586.22H532.99V585.53H543.23V578.10H553.46V582.94H563.70V583.20H573.94V580.60H584.19V578.88H594.44V582.94H604.69V584.49H614.94V581.90H625.20V586.05H635.46V585.36H645.72V581.90H655.98V586.05H666.25V581.90H676.52V578.70H686.79V585.40H676.52V588.60H666.25V592.75H655.98V588.60H645.72V592.06H635.46V592.75H625.20V588.60H614.94V591.19H604.69V589.64H594.44V585.58H584.19V587.30H573.94V589.90H563.70V589.64H553.46V584.80H543.23V592.23H532.99V592.92H522.76V590.93H512.53V590.93H502.31V589.03H492.08V586.79H481.87V588.08H471.65V591.19H461.43V586.01H451.22V592.06H441.01V592.06H430.81V590.93H420.60V590.93H410.40V589.90H400.21V584.28H390.01V590.07H379.82V583.16H369.63V589.29H359.45V590.93H349.26V581.00H339.08V539.61H328.90V561.12H318.73V577.71H308.56V583.42H298.39V590.93H288.22V588.17H278.06V592.57H267.90V588.60H257.74V589.46H247.58V585.92H237.43V590.76H227.28V590.33H217.13V590.76H206.99V590.33H196.85V589.46H186.71V587.74H176.57V589.90H166.44V585.40H156.31V583.76H146.18V589.46H136.06V590.33H125.94V592.06H115.82V587.91H105.70V592.57H95.59V584.63H85.48V592.92H75.37V589.29H65.10Z" fill="#bdbdbd" stroke="none"/><path d="M65.10,585.25V585.94H75.37V589.57H85.48V581.28H95.59V589.22H105.70V584.56H115.82V588.71H125.94V586.98H136.06V586.11H146.18V580.41H156.31V582.05H166.44V586.55H176.57V584.39H186.71V586.11H196.85V586.98H206.99V587.41H217.13V586.98H227.28V587.41H237.43V582.57H247.58V586.11H257.74V585.25H267.90V589.22H278.06V584.82H288.22V587.58H298.39V580.07H308.56V574.36H318.73V557.77H328.90V536.26H339.08V577.65H349.26V587.58H359.45V585.94H369.63V579.81H379.82V586.72H390.01V580.93H400.21V586.55H410.40V587.58H420.60V587.58H430.81V588.71H441.01V588.71H451.22V582.66H461.43V587.84H471.65V584.73H481.87V583.44H492.08V585.68H502.31V587.58H512.53V587.58H522.76V589.57H532.99V588.88H543.23V581.45H553.46V586.29H563.70V586.55H573.94V583.95H584.19V582.23H594.44V586.29H604.69V587.84H614.94V585.25H625.20V589.40H635.46V588.71H645.72V585.25H655.98V589.40H666.25V585.25H676.52V582.05H686.79" fill="none" stroke="#000" stroke-width="2.0" stroke-linejoin="round" stroke-linecap="square"/><path d="M65.10,585.25H75.37V585.25H85.48V585.25H95.59V585.25H105.70V585.25H115.82V585.25H125.94V585.25H136.06V585.25H146.18V585.25H156.31V585.25H166.44V585.25H176.57V585.25H186.71V585.25H196.85V585.25H206.99V585.25H217.13V585.25H227.28V585.25H237.43V585.25H247.58V585.25H257.74V585.25H267.90V585.25H278.06V585.25H288.22V585.25H298.39V583.78H308.56V576.61H318.73V558.29H328.90V545.85H339.08V570.22H349.26V585.25H359.45V585.25H369.63V585.25H379.82V585.25H390.01V585.25H400.21V585.25H410.40V585.25H420.60V585.25H430.81V585.25H441.01V585.25H451.22V585.25H461.43V585.25H471.65V585.25H481.87V585.25H492.08V585.25H502.31V585.25H512.53V585.25H522.76V585.25H532.99V585.25H543.23V585.25H553.46V585.25H563.70V585.25H573.94V585.25H584.19V585.25H594.44V585.25H604.69V585.25H614.94V585.25H625.20V585.25H635.46V585.25H645.72V585.25H655.98V585.25H666.25V585.25H676.52V585.25H686.79" fill="none" stroke="#0000ff" stroke-width="2.0" stroke-linejoin="round" stroke-linecap="square"/></g>
<g clip-path="url(#c12)"><path d="M65.10,664.53H75.37V665.05H85.48V662.89H95.59V668.33H105.70V663.32H115.82V668.33H125.94V662.89H136.06V665.05H146.18V669.37H156.31V663.32H166.44V663.32H176.57V667.38H186.71V669.37H196.85V659.61H206.99V664.19H217.13V666.78H227.28V664.53H237.43V662.03H247.58V666.78H257.74V660.73H267.90V662.89H278.06V665.05H288.22V665.05H298.39V660.13H308.56V660.38H318.73V665.05H328.90V665.91H339.08V664.53H349.26V665.05H359.45V665.91H369.63V663.75H379.82V665.05H390.01V673.69H400.21V661.77H410.40V667.21H420.60V663.06H430.81V668.85H441.01V663.93H451.22V653.13H461.43V630.32H471.65V632.91H481.87V639.13H492.08V662.20H502.31V664.53H512.53V667.90H522.76V661.77H532.99V665.05H543.23V661.77H553.46V665.05H563.70V659.09H573.94V666.69H584.19V667.04H594.44V667.04H604.69V666.35H614.94V662.98H625.20V665.05H635.46V668.07H645.72V667.12H655.98V662.29H666.25V664.36H676.52V655.11H686.79V661.81H676.52V671.06H666.25V668.99H655.98V673.82H645.72V674.77H635.46V671.75H625.20V669.68H614.94V673.05H604.69V673.74H594.44V673.74H584.19V673.39H573.94V665.79H563.70V671.75H553.46V668.47H543.23V671.75H532.99V668.47H522.76V674.60H512.53V671.23H502.31V668.90H492.08V645.83H481.87V639.61H471.65V637.02H461.43V659.83H451.22V670.63H441.01V675.55H430.81V669.76H420.60V673.91H410.40V668.47H400.21V680.39H390.01V671.75H379.82V670.45H369.63V672.61H359.45V671.75H349.26V671.23H339.08V672.61H328.90V671.75H318.73V667.08H308.56V666.83H298.39V671.75H288.22V671.75H278.06V669.59H267.90V667.43H257.74V673.48H247.58V668.73H237.43V671.23H227.28V673.48H217.13V670.89H206.99V666.31H196.85V676.07H186.71V674.08H176.57V670.02H166.44V670.02H156.31V676.07H146.18V671.75H136.06V669.59H125.94V675.03H115.82V670.02H105.70V675.03H95.59V669.59H85.48V671.75H75.37V671.23H65.10Z" fill="#bdbdbd" stroke="none"/><path d="M65.10,668.40V667.88H75.37V668.40H85.48V666.24H95.59V671.68H105.70V666.67H115.82V671.68H125.94V666.24H136.06V668.40H146.18V672.72H156.31V666.67H166.44V666.67H176.57V670.73H186.71V672.72H196.85V662.96H206.99V667.54H217.13V670.13H227.28V667.88H237.43V665.38H247.58V670.13H257.74V664.08H267.90V666.24H278.06V668.40H288.22V668.40H298.39V663.48H308.56V663.73H318.73V668.40H328.90V669.26H339.08V667.88H349.26V668.40H359.45V669.26H369.63V667.10H379.82V668.40H390.01V677.04H400.21V665.12H410.40V670.56H420.60V666.41H430.81V672.20H441.01V667.28H451.22V656.48H461.43V633.67H471.65V636.26H481.87V642.48H492.08V665.55H502.31V667.88H512.53V671.25H522.76V665.12H532.99V668.40H543.23V665.12H553.46V668.40H563.70V662.44H573.94V670.04H584.19V670.39H594.44V670.39H604.69V669.70H614.94V666.33H625.20V668.40H635.46V671.42H645.72V670.47H655.98V665.64H666.25V667.71H676.52V658.46H686.79" fill="none" stroke="#000" stroke-width="2.0" stroke-linejoin="round" stroke-linecap="square"/><path d="M65.10,668.40H75.37V668.40H85.48V668.40H95.59V668.40H105.70V668.40H115.82V668.40H125.94V668.40H136.06V668.40H146.18V668.40H156.31V668.40H166.44V668.40H176.57V668.40H186.71V668.40H196.85V668.40H206.99V668.40H217.13V668.40H227.28V668.40H237.43V668.40H247.58V668.40H257.74V668.40H267.90V668.40H278.06V668.40H288.22V668.40H298.39V668.40H308.56V668.40H318.73V668.40H328.90V668.40H339.08V668.40H349.26V668.40H359.45V668.40H369.63V668.40H379.82V668.40H390.01V668.40H400.21V668.40H410.40V668.40H420.60V668.40H430.81V668.40H441.01V664.77H451.22V654.84H461.43V643.60H471.65V639.63H481.87V640.75H492.08V668.40H502.31V668.40H512.53V668.40H522.76V668.40H532.99V668.40H543.23V668.40H553.46V668.40H563.70V668.40H573.94V668.40H584.19V668.40H594.44V668.40H604.69V668.40H614.94V668.40H625.20V668.40H635.46V668.40H645.72V668.40H655.98V668.40H666.25V668.40H676.52V668.40H686.79" fill="none" stroke="#0000ff" stroke-width="2.0" stroke-linejoin="round" stroke-linecap="square"/></g>
<g clip-path="url(#c13)"><path d="M65.10,747.34H75.37V748.20H85.48V747.34H95.59V748.20H105.70V749.06H115.82V749.06H125.94V747.34H136.06V744.40H146.18V748.20H156.31V743.88H166.44V752.09H176.57V746.47H186.71V743.88H196.85V748.20H206.99V748.20H217.13V748.20H227.28V744.92H237.43V748.20H247.58V747.34H257.74V747.34H267.90V750.53H278.06V745.61H288.22V748.20H298.39V748.20H308.56V748.20H318.73V746.90H328.90V749.50H339.08V752.78H349.26V744.05H359.45V750.19H369.63V751.22H379.82V749.50H390.01V746.90H400.21V749.67H410.40V748.20H420.60V747.34H430.81V747.34H441.01V741.63H451.22V732.22H461.43V731.78H471.65V716.15H481.87V692.13H492.08V748.20H502.31V743.02H512.53V749.06H522.76V742.41H532.99V749.06H543.23V747.34H553.46V748.20H563.70V746.90H573.94V752.35H584.19V743.28H594.44V748.20H604.69V747.34H614.94V748.89H625.20V748.20H635.46V745.44H645.72V748.20H655.98V748.46H666.25V753.73H676.52V744.74H686.79V751.44H676.52V760.43H666.25V755.16H655.98V754.90H645.72V752.14H635.46V754.90H625.20V755.59H614.94V754.04H604.69V754.90H594.44V749.98H584.19V759.05H573.94V753.60H563.70V754.90H553.46V754.04H543.23V755.76H532.99V749.11H522.76V755.76H512.53V749.72H502.31V754.90H492.08V698.83H481.87V722.85H471.65V738.48H461.43V738.92H451.22V748.33H441.01V754.04H430.81V754.04H420.60V754.90H410.40V756.37H400.21V753.60H390.01V756.20H379.82V757.92H369.63V756.89H359.45V750.75H349.26V759.48H339.08V756.20H328.90V753.60H318.73V754.90H308.56V754.90H298.39V754.90H288.22V752.31H278.06V757.23H267.90V754.04H257.74V754.04H247.58V754.90H237.43V751.62H227.28V754.90H217.13V754.90H206.99V754.90H196.85V750.58H186.71V753.17H176.57V758.79H166.44V750.58H156.31V754.90H146.18V751.10H136.06V754.04H125.94V755.76H115.82V755.76H105.70V754.90H95.59V754.04H85.48V754.90H75.37V754.04H65.10Z" fill="#bdbdbd" stroke="none"/><path d="M65.10,751.55V750.69H75.37V751.55H85.48V750.69H95.59V751.55H105.70V752.41H115.82V752.41H125.94V750.69H136.06V747.75H146.18V751.55H156.31V747.23H166.44V755.44H176.57V749.82H186.71V747.23H196.85V751.55H206.99V751.55H217.13V751.55H227.28V748.27H237.43V751.55H247.58V750.69H257.74V750.69H267.90V753.88H278.06V748.96H288.22V751.55H298.39V751.55H308.56V751.55H318.73V750.25H328.90V752.85H339.08V756.13H349.26V747.40H359.45V753.54H369.63V754.57H379.82V752.85H390.01V750.25H400.21V753.02H410.40V751.55H420.60V750.69H430.81V750.69H441.01V744.98H451.22V735.57H461.43V735.13H471.65V719.50H481.87V695.48H492.08V751.55H502.31V746.37H512.53V752.41H522.76V745.76H532.99V752.41H543.23V750.69H553.46V751.55H563.70V750.25H573.94V755.70H584.19V746.63H594.44V751.55H604.69V750.69H614.94V752.24H625.20V751.55H635.46V748.79H645.72V751.55H655.98V751.81H666.25V757.08H676.52V748.09H686.79" fill="none" stroke="#000" stroke-width="2.0" stroke-linejoin="round" stroke-linecap="square"/><path d="M65.10,751.55H75.37V751.55H85.48V751.55H95.59V751.55H105.70V751.55H115.82V751.55H125.94V751.55H136.06V751.55H146.18V751.55H156.31V751.55H166.44V751.55H176.57V751.55H186.71V751.55H196.85V751.55H206.99V751.55H217.13V751.55H227.28V751.55H237.43V751.55H247.58V751.55H257.74V751.55H267.90V751.55H278.06V751.55H288.22V751.55H298.39V751.55H308.56V751.55H318.73V751.55H328.90V751.55H339.08V751.55H349.26V751.55H359.45V751.55H369.63V751.55H379.82V751.55H390.01V751.55H400.21V751.55H410.40V751.55H420.60V751.55H430.81V751.55H441.01V750.69H451.22V747.23H461.43V734.27H471.65V714.23H481.87V688.56H492.08V751.55H502.31V751.55H512.53V751.55H522.76V751.55H532.99V751.55H543.23V751.55H553.46V751.55H563.70V751.55H573.94V751.55H584.19V751.55H594.44V751.55H604.69V751.55H614.94V751.55H625.20V751.55H635.46V751.55H645.72V751.55H655.98V751.55H666.25V751.55H676.52V751.55H686.79" fill="none" stroke="#0000ff" stroke-width="2.0" stroke-linejoin="round" stroke-linecap="square"/></g>
<path d="M51.53,518.25v-2.1M51.53,435.1v2.1M76.52,518.25v-2.1M76.52,435.1v2.1M101.51,518.25v-2.1M101.51,435.1v2.1M126.50,518.25v-3.5M126.50,435.1v3.5M151.49,518.25v-2.1M151.49,435.1v2.1M176.48,518.25v-2.1M176.48,435.1v2.1M201.47,518.25v-2.1M201.47,435.1v2.1M226.46,518.25v-2.1M226.46,435.1v2.1M251.45,518.25v-3.5M251.45,435.1v3.5M276.44,518.25v-2.1M276.44,435.1v2.1M301.43,518.25v-2.1M301.43,435.1v2.1M326.42,518.25v-2.1M326.42,435.1v2.1M351.41,518.25v-2.1M351.41,435.1v2.1M376.40,518.25v-3.5M376.40,435.1v3.5M401.39,518.25v-2.1M401.39,435.1v2.1M426.38,518.25v-2.1M426.38,435.1v2.1M451.37,518.25v-2.1M451.37,435.1v2.1M476.36,518.25v-2.1M476.36,435.1v2.1M501.35,518.25v-3.5M501.35,435.1v3.5M526.34,518.25v-2.1M526.34,435.1v2.1M551.33,518.25v-2.1M551.33,435.1v2.1M576.32,518.25v-2.1M576.32,435.1v2.1M601.31,518.25v-2.1M601.31,435.1v2.1M626.30,518.25v-3.5M626.30,435.1v3.5M651.29,518.25v-2.1M651.29,435.1v2.1M676.28,518.25v-2.1M676.28,435.1v2.1M701.27,518.25v-2.1M701.27,435.1v2.1M34.4,510.74h2.1M717.5,510.74h-2.1M34.4,502.10h3.5M717.5,502.10h-3.5M34.4,493.46h2.1M717.5,493.46h-2.1M34.4,484.82h2.1M717.5,484.82h-2.1M34.4,476.18h2.1M717.5,476.18h-2.1M34.4,467.54h2.1M717.5,467.54h-2.1M34.4,458.90h3.5M717.5,458.90h-3.5M34.4,450.26h2.1M717.5,450.26h-2.1M34.4,441.62h2.1M717.5,441.62h-2.1M51.53,601.4v-2.1M51.53,518.25v2.1M76.52,601.4v-2.1M76.52,518.25v2.1M101.51,601.4v-2.1M101.51,518.25v2.1M126.50,601.4v-3.5M126.50,518.25v3.5M151.49,601.4v-2.1M151.49,518.25v2.1M176.48,601.4v-2.1M176.48,518.25v2.1M201.47,601.4v-2.1M201.47,518.25v2.1M226.46,601.4v-2.1M226.46,518.25v2.1M251.45,601.4v-3.5M251.45,518.25v3.5M276.44,601.4v-2.1M276.44,518.25v2.1M301.43,601.4v-2.1M301.43,518.25v2.1M326.42,601.4v-2.1M326.42,518.25v2.1M351.41,601.4v-2.1M351.41,518.25v2.1M376.40,601.4v-3.5M376.40,518.25v3.5M401.39,601.4v-2.1M401.39,518.25v2.1M426.38,601.4v-2.1M426.38,518.25v2.1M451.37,601.4v-2.1M451.37,518.25v2.1M476.36,601.4v-2.1M476.36,518.25v2.1M501.35,601.4v-3.5M501.35,518.25v3.5M526.34,601.4v-2.1M526.34,518.25v2.1M551.33,601.4v-2.1M551.33,518.25v2.1M576.32,601.4v-2.1M576.32,518.25v2.1M601.31,601.4v-2.1M601.31,518.25v2.1M626.30,601.4v-3.5M626.30,518.25v3.5M651.29,601.4v-2.1M651.29,518.25v2.1M676.28,601.4v-2.1M676.28,518.25v2.1M701.27,601.4v-2.1M701.27,518.25v2.1M34.4,593.89h2.1M717.5,593.89h-2.1M34.4,585.25h3.5M717.5,585.25h-3.5M34.4,576.61h2.1M717.5,576.61h-2.1M34.4,567.97h2.1M717.5,567.97h-2.1M34.4,559.33h2.1M717.5,559.33h-2.1M34.4,550.69h2.1M717.5,550.69h-2.1M34.4,542.05h3.5M717.5,542.05h-3.5M34.4,533.41h2.1M717.5,533.41h-2.1M34.4,524.77h2.1M717.5,524.77h-2.1M51.53,684.55v-2.1M51.53,601.4v2.1M76.52,684.55v-2.1M76.52,601.4v2.1M101.51,684.55v-2.1M101.51,601.4v2.1M126.50,684.55v-3.5M126.50,601.4v3.5M151.49,684.55v-2.1M151.49,601.4v2.1M176.48,684.55v-2.1M176.48,601.4v2.1M201.47,684.55v-2.1M201.47,601.4v2.1M226.46,684.55v-2.1M226.46,601.4v2.1M251.45,684.55v-3.5M251.45,601.4v3.5M276.44,684.55v-2.1M276.44,601.4v2.1M301.43,684.55v-2.1M301.43,601.4v2.1M326.42,684.55v-2.1M326.42,601.4v2.1M351.41,684.55v-2.1M351.41,601.4v2.1M376.40,684.55v-3.5M376.40,601.4v3.5M401.39,684.55v-2.1M401.39,601.4v2.1M426.38,684.55v-2.1M426.38,601.4v2.1M451.37,684.55v-2.1M451.37,601.4v2.1M476.36,684.55v-2.1M476.36,601.4v2.1M501.35,684.55v-3.5M501.35,601.4v3.5M526.34,684.55v-2.1M526.34,601.4v2.1M551.33,684.55v-2.1M551.33,601.4v2.1M576.32,684.55v-2.1M576.32,601.4v2.1M601.31,684.55v-2.1M601.31,601.4v2.1M626.30,684.55v-3.5M626.30,601.4v3.5M651.29,684.55v-2.1M651.29,601.4v2.1M676.28,684.55v-2.1M676.28,601.4v2.1M701.27,684.55v-2.1M701.27,601.4v2.1M34.4,677.04h2.1M717.5,677.04h-2.1M34.4,668.40h3.5M717.5,668.40h-3.5M34.4,659.76h2.1M717.5,659.76h-2.1M34.4,651.12h2.1M717.5,651.12h-2.1M34.4,642.48h2.1M717.5,642.48h-2.1M34.4,633.84h2.1M717.5,633.84h-2.1M34.4,625.20h3.5M717.5,625.20h-3.5M34.4,616.56h2.1M717.5,616.56h-2.1M34.4,607.92h2.1M717.5,607.92h-2.1M51.53,767.7v-2.1M51.53,684.55v2.1M76.52,767.7v-2.1M76.52,684.55v2.1M101.51,767.7v-2.1M101.51,684.55v2.1M126.50,767.7v-3.5M126.50,684.55v3.5M151.49,767.7v-2.1M151.49,684.55v2.1M176.48,767.7v-2.1M176.48,684.55v2.1M201.47,767.7v-2.1M201.47,684.55v2.1M226.46,767.7v-2.1M226.46,684.55v2.1M251.45,767.7v-3.5M251.45,684.55v3.5M276.44,767.7v-2.1M276.44,684.55v2.1M301.43,767.7v-2.1M301.43,684.55v2.1M326.42,767.7v-2.1M326.42,684.55v2.1M351.41,767.7v-2.1M351.41,684.55v2.1M376.40,767.7v-3.5M376.40,684.55v3.5M401.39,767.7v-2.1M401.39,684.55v2.1M426.38,767.7v-2.1M426.38,684.55v2.1M451.37,767.7v-2.1M451.37,684.55v2.1M476.36,767.7v-2.1M476.36,684.55v2.1M501.35,767.7v-3.5M501.35,684.55v3.5M526.34,767.7v-2.1M526.34,684.55v2.1M551.33,767.7v-2.1M551.33,684.55v2.1M576.32,767.7v-2.1M576.32,684.55v2.1M601.31,767.7v-2.1M601.31,684.55v2.1M626.30,767.7v-3.5M626.30,684.55v3.5M651.29,767.7v-2.1M651.29,684.55v2.1M676.28,767.7v-2.1M676.28,684.55v2.1M701.27,767.7v-2.1M701.27,684.55v2.1M34.4,760.19h2.1M717.5,760.19h-2.1M34.4,751.55h3.5M717.5,751.55h-3.5M34.4,742.91h2.1M717.5,742.91h-2.1M34.4,734.27h2.1M717.5,734.27h-2.1M34.4,725.63h2.1M717.5,725.63h-2.1M34.4,716.99h2.1M717.5,716.99h-2.1M34.4,708.35h3.5M717.5,708.35h-3.5M34.4,699.71h2.1M717.5,699.71h-2.1M34.4,691.07h2.1M717.5,691.07h-2.1" stroke="#111" stroke-width="0.85" fill="none"/>
<rect x="34.4" y="435.1" width="683.1" height="83.14999999999998" fill="none" stroke="#111" stroke-width="0.95"/>
<rect x="34.4" y="518.25" width="683.1" height="83.14999999999998" fill="none" stroke="#111" stroke-width="0.95"/>
<rect x="34.4" y="601.4" width="683.1" height="83.14999999999998" fill="none" stroke="#111" stroke-width="0.95"/>
<rect x="34.4" y="684.55" width="683.1" height="83.15000000000009" fill="none" stroke="#111" stroke-width="0.95"/>
<rect x="645.0" y="440.30" width="67.5" height="47.6" rx="2.2" fill="#fff" fill-opacity="0.8" stroke="#d4d4d4" stroke-width="1"/>
<path d="M648.6,448.60H670.4" stroke="#000" stroke-width="2.0"/>
<path d="M648.6,463.70H670.4" stroke="#0000ff" stroke-width="2.0"/>
<rect x="648.9" y="474.70" width="20.9" height="7.7" fill="#b3b3b3"/>
<text transform="translate(678.02,452.10) scale(0.1062,0.1041)" style="font-size:100px" fill="#000" stroke="#000" stroke-width="1.71">D</text>
<text transform="translate(686.03,452.14) scale(0.0927,0.1029)" style="font-size:100px" fill="#000" stroke="#000" stroke-width="1.84">a</text>
<text transform="translate(692.18,452.02) scale(0.1370,0.1055)" style="font-size:100px" fill="#000" stroke="#000" stroke-width="1.50">t</text>
<text transform="translate(696.35,452.14) scale(0.0927,0.1029)" style="font-size:100px" fill="#000" stroke="#000" stroke-width="1.84">a</text>
<text transform="translate(678.16,466.70) scale(0.1024,0.1041)" style="font-size:100px" fill="#000" stroke="#000" stroke-width="1.74">M</text>
<text transform="translate(686.94,466.74) scale(0.1089,0.1029)" style="font-size:100px" fill="#000" stroke="#000" stroke-width="1.70">o</text>
<text transform="translate(693.19,466.74) scale(0.1115,0.1033)" style="font-size:100px" fill="#000" stroke="#000" stroke-width="1.68">d</text>
<text transform="translate(699.70,466.74) scale(0.1106,0.1029)" style="font-size:100px" fill="#000" stroke="#000" stroke-width="1.69">e</text>
<text transform="translate(706.17,466.70) scale(0.1053,0.1027)" style="font-size:100px" fill="#000" stroke="#000" stroke-width="1.73">l</text>
<text transform="translate(678.07,481.70) scale(0.1009,0.1041)" style="font-size:100px" fill="#000" stroke="#000" stroke-width="1.76">N</text>
<text transform="translate(685.62,481.74) scale(0.1082,0.1029)" style="font-size:100px" fill="#000" stroke="#000" stroke-width="1.71">o</text>
<text transform="translate(692.01,481.70) scale(0.1047,0.1027)" style="font-size:100px" fill="#000" stroke="#000" stroke-width="1.74">i</text>
<text transform="translate(694.87,481.74) scale(0.0971,0.1029)" style="font-size:100px" fill="#000" stroke="#000" stroke-width="1.80">s</text>
<text transform="translate(699.97,481.74) scale(0.1099,0.1029)" style="font-size:100px" fill="#000" stroke="#000" stroke-width="1.69">e</text>
<text transform="translate(333.85,428.50) scale(0.1636,0.1699)" style="font-size:100px" fill="#000" stroke="#000" stroke-width="1.08">N</text>
<text transform="translate(346.04,428.57) scale(0.1613,0.1713)" style="font-size:100px" fill="#000" stroke="#000" stroke-width="1.08">G</text>
<text transform="translate(358.87,428.57) scale(0.1540,0.1713)" style="font-size:100px" fill="#000" stroke="#000" stroke-width="1.11">C</text>
<text transform="translate(375.76,428.57) scale(0.1793,0.1713)" style="font-size:100px" fill="#000" stroke="#000" stroke-width="1.03">6</text>
<text transform="translate(386.37,428.57) scale(0.1756,0.1713)" style="font-size:100px" fill="#000" stroke="#000" stroke-width="1.04">8</text>
<text transform="translate(396.76,428.57) scale(0.1793,0.1713)" style="font-size:100px" fill="#000" stroke="#000" stroke-width="1.03">6</text>
<text transform="translate(407.58,428.50) scale(0.1660,0.1699)" style="font-size:100px" fill="#000" stroke="#000" stroke-width="1.07">1</text>
<text transform="translate(76.70,454.50) scale(0.1593,0.1453)" style="font-size:100px" fill="#000" stroke="#000" stroke-width="1.18">x</text>
<text transform="translate(90.10,454.14) scale(0.1856,0.1226)" style="font-size:100px" fill="#000" stroke="#000" stroke-width="1.19">=</text>
<text transform="translate(106.43,454.56) scale(0.1517,0.1499)" style="font-size:100px" fill="#000" stroke="#000" stroke-width="1.19">0</text>
<text transform="translate(115.35,454.50) scale(0.1548,0.1628)" style="font-size:100px" fill="#000" stroke="#000" stroke-width="1.13">.</text>
<text transform="translate(120.34,454.56) scale(0.1427,0.1495)" style="font-size:100px" fill="#000" stroke="#000" stroke-width="1.23">5</text>
<text transform="translate(129.24,454.50) scale(0.1459,0.1490)" style="font-size:100px" fill="#000" stroke="#000" stroke-width="1.22">2</text>
<text transform="translate(138.81,456.23) scale(0.1435,0.1738)" style="font-size:100px" fill="#000" stroke="#000" stroke-width="1.14">&quot;</text>
<text transform="translate(143.88,454.29) scale(0.2097,0.1430)" style="font-size:100px" fill="#000" stroke="#000" stroke-width="1.04">,</text>
<text transform="translate(154.17,454.42) scale(0.1544,0.1438)" style="font-size:100px" fill="#000" stroke="#000" stroke-width="1.21">y</text>
<text transform="translate(167.41,454.14) scale(0.1856,0.1226)" style="font-size:100px" fill="#000" stroke="#000" stroke-width="1.19">=</text>
<text transform="translate(183.91,454.50) scale(0.1443,0.1487)" style="font-size:100px" fill="#000" stroke="#000" stroke-width="1.23">1</text>
<text transform="translate(192.65,454.50) scale(0.1548,0.1628)" style="font-size:100px" fill="#000" stroke="#000" stroke-width="1.13">.</text>
<text transform="translate(197.65,454.56) scale(0.1427,0.1495)" style="font-size:100px" fill="#000" stroke="#000" stroke-width="1.23">5</text>
<text transform="translate(206.46,454.56) scale(0.1559,0.1499)" style="font-size:100px" fill="#000" stroke="#000" stroke-width="1.18">6</text>
<text transform="translate(216.12,456.23) scale(0.1435,0.1738)" style="font-size:100px" fill="#000" stroke="#000" stroke-width="1.14">&quot;</text>
<text transform="translate(76.70,537.50) scale(0.1593,0.1453)" style="font-size:100px" fill="#000" stroke="#000" stroke-width="1.18">x</text>
<text transform="translate(90.10,537.14) scale(0.1856,0.1226)" style="font-size:100px" fill="#000" stroke="#000" stroke-width="1.19">=</text>
<text transform="translate(106.60,537.50) scale(0.1443,0.1487)" style="font-size:100px" fill="#000" stroke="#000" stroke-width="1.23">1</text>
<text transform="translate(115.35,537.50) scale(0.1548,0.1628)" style="font-size:100px" fill="#000" stroke="#000" stroke-width="1.13">.</text>
<text transform="translate(120.33,537.56) scale(0.1450,0.1499)" style="font-size:100px" fill="#000" stroke="#000" stroke-width="1.22">3</text>
<text transform="translate(129.25,537.56) scale(0.1517,0.1499)" style="font-size:100px" fill="#000" stroke="#000" stroke-width="1.19">0</text>
<text transform="translate(138.81,539.23) scale(0.1435,0.1738)" style="font-size:100px" fill="#000" stroke="#000" stroke-width="1.14">&quot;</text>
<text transform="translate(143.88,537.29) scale(0.2097,0.1430)" style="font-size:100px" fill="#000" stroke="#000" stroke-width="1.04">,</text>
<text transform="translate(154.17,537.42) scale(0.1544,0.1438)" style="font-size:100px" fill="#000" stroke="#000" stroke-width="1.21">y</text>
<text transform="translate(167.41,537.14) scale(0.1856,0.1226)" style="font-size:100px" fill="#000" stroke="#000" stroke-width="1.19">=</text>
<text transform="translate(183.74,537.56) scale(0.1517,0.1499)" style="font-size:100px" fill="#000" stroke="#000" stroke-width="1.19">0</text>
<text transform="translate(192.65,537.50) scale(0.1548,0.1628)" style="font-size:100px" fill="#000" stroke="#000" stroke-width="1.13">.</text>
<text transform="translate(197.65,537.56) scale(0.1427,0.1495)" style="font-size:100px" fill="#000" stroke="#000" stroke-width="1.23">5</text>
<text transform="translate(206.54,537.50) scale(0.1459,0.1490)" style="font-size:100px" fill="#000" stroke="#000" stroke-width="1.22">2</text>
<text transform="translate(216.12,539.23) scale(0.1435,0.1738)" style="font-size:100px" fill="#000" stroke="#000" stroke-width="1.14">&quot;</text>
<text transform="translate(76.70,618.40) scale(0.1592,0.1453)" style="font-size:100px" fill="#000" stroke="#000" stroke-width="1.18">x</text>
<text transform="translate(90.09,618.04) scale(0.1855,0.1226)" style="font-size:100px" fill="#000" stroke="#000" stroke-width="1.19">=</text>
<text transform="translate(106.09,618.40) scale(0.1552,0.1445)" style="font-size:100px" fill="#000" stroke="#000" stroke-width="1.20">-</text>
<text transform="translate(111.57,618.46) scale(0.1516,0.1499)" style="font-size:100px" fill="#000" stroke="#000" stroke-width="1.19">0</text>
<text transform="translate(120.48,618.40) scale(0.1547,0.1628)" style="font-size:100px" fill="#000" stroke="#000" stroke-width="1.13">.</text>
<text transform="translate(125.33,618.40) scale(0.1481,0.1487)" style="font-size:100px" fill="#000" stroke="#000" stroke-width="1.21">7</text>
<text transform="translate(134.37,618.46) scale(0.1525,0.1499)" style="font-size:100px" fill="#000" stroke="#000" stroke-width="1.19">8</text>
<text transform="translate(143.92,620.13) scale(0.1433,0.1738)" style="font-size:100px" fill="#000" stroke="#000" stroke-width="1.14">&quot;</text>
<text transform="translate(148.98,618.19) scale(0.2095,0.1430)" style="font-size:100px" fill="#000" stroke="#000" stroke-width="1.04">,</text>
<text transform="translate(159.26,618.32) scale(0.1542,0.1438)" style="font-size:100px" fill="#000" stroke="#000" stroke-width="1.21">y</text>
<text transform="translate(172.49,618.04) scale(0.1855,0.1226)" style="font-size:100px" fill="#000" stroke="#000" stroke-width="1.19">=</text>
<text transform="translate(188.50,618.40) scale(0.1552,0.1445)" style="font-size:100px" fill="#000" stroke="#000" stroke-width="1.20">-</text>
<text transform="translate(193.98,618.46) scale(0.1516,0.1499)" style="font-size:100px" fill="#000" stroke="#000" stroke-width="1.19">0</text>
<text transform="translate(202.88,618.40) scale(0.1547,0.1628)" style="font-size:100px" fill="#000" stroke="#000" stroke-width="1.13">.</text>
<text transform="translate(207.73,618.40) scale(0.1481,0.1487)" style="font-size:100px" fill="#000" stroke="#000" stroke-width="1.21">7</text>
<text transform="translate(216.77,618.46) scale(0.1525,0.1499)" style="font-size:100px" fill="#000" stroke="#000" stroke-width="1.19">8</text>
<text transform="translate(226.32,620.13) scale(0.1433,0.1738)" style="font-size:100px" fill="#000" stroke="#000" stroke-width="1.14">&quot;</text>
<text transform="translate(76.70,703.90) scale(0.1592,0.1453)" style="font-size:100px" fill="#000" stroke="#000" stroke-width="1.18">x</text>
<text transform="translate(90.09,703.54) scale(0.1855,0.1226)" style="font-size:100px" fill="#000" stroke="#000" stroke-width="1.19">=</text>
<text transform="translate(106.09,703.90) scale(0.1552,0.1445)" style="font-size:100px" fill="#000" stroke="#000" stroke-width="1.20">-</text>
<text transform="translate(111.57,703.96) scale(0.1516,0.1499)" style="font-size:100px" fill="#000" stroke="#000" stroke-width="1.19">0</text>
<text transform="translate(120.48,703.90) scale(0.1547,0.1628)" style="font-size:100px" fill="#000" stroke="#000" stroke-width="1.13">.</text>
<text transform="translate(125.47,703.96) scale(0.1426,0.1495)" style="font-size:100px" fill="#000" stroke="#000" stroke-width="1.23">5</text>
<text transform="translate(134.36,703.90) scale(0.1457,0.1490)" style="font-size:100px" fill="#000" stroke="#000" stroke-width="1.22">2</text>
<text transform="translate(143.92,705.63) scale(0.1433,0.1738)" style="font-size:100px" fill="#000" stroke="#000" stroke-width="1.14">&quot;</text>
<text transform="translate(148.98,703.69) scale(0.2095,0.1430)" style="font-size:100px" fill="#000" stroke="#000" stroke-width="1.04">,</text>
<text transform="translate(159.26,703.82) scale(0.1542,0.1438)" style="font-size:100px" fill="#000" stroke="#000" stroke-width="1.21">y</text>
<text transform="translate(172.49,703.54) scale(0.1855,0.1226)" style="font-size:100px" fill="#000" stroke="#000" stroke-width="1.19">=</text>
<text transform="translate(188.50,703.90) scale(0.1552,0.1445)" style="font-size:100px" fill="#000" stroke="#000" stroke-width="1.20">-</text>
<text transform="translate(194.15,703.90) scale(0.1442,0.1487)" style="font-size:100px" fill="#000" stroke="#000" stroke-width="1.23">1</text>
<text transform="translate(202.88,703.90) scale(0.1547,0.1628)" style="font-size:100px" fill="#000" stroke="#000" stroke-width="1.13">.</text>
<text transform="translate(207.65,703.96) scale(0.1516,0.1499)" style="font-size:100px" fill="#000" stroke="#000" stroke-width="1.19">0</text>
<text transform="translate(216.83,703.90) scale(0.1504,0.1487)" style="font-size:100px" fill="#000" stroke="#000" stroke-width="1.20">4</text>
<text transform="translate(226.32,705.63) scale(0.1433,0.1738)" style="font-size:100px" fill="#000" stroke="#000" stroke-width="1.14">&quot;</text>
<text transform="translate(20.50,508.27) scale(0.1759,0.1670)" style="font-size:100px" fill="#000" stroke="#000" stroke-width="1.05">0</text>
<text transform="translate(20.83,465.17) scale(0.1663,0.1666)" style="font-size:100px" fill="#000" stroke="#000" stroke-width="1.08">5</text>
<text transform="translate(20.50,591.42) scale(0.1759,0.1670)" style="font-size:100px" fill="#000" stroke="#000" stroke-width="1.05">0</text>
<text transform="translate(20.83,548.32) scale(0.1663,0.1666)" style="font-size:100px" fill="#000" stroke="#000" stroke-width="1.08">5</text>
<text transform="translate(20.50,674.57) scale(0.1759,0.1670)" style="font-size:100px" fill="#000" stroke="#000" stroke-width="1.05">0</text>
<text transform="translate(20.83,631.47) scale(0.1663,0.1666)" style="font-size:100px" fill="#000" stroke="#000" stroke-width="1.08">5</text>
<text transform="translate(20.50,757.72) scale(0.1759,0.1670)" style="font-size:100px" fill="#000" stroke="#000" stroke-width="1.05">0</text>
<text transform="translate(20.83,714.62) scale(0.1663,0.1666)" style="font-size:100px" fill="#000" stroke="#000" stroke-width="1.08">5</text>
<text transform="translate(99.45,784.79) scale(0.2091,0.1775)" style="font-size:100px" fill="#000" stroke="#000" stroke-width="0.93">−</text>
<text transform="translate(112.90,783.80) scale(0.1625,0.1656)" style="font-size:100px" fill="#000" stroke="#000" stroke-width="1.10">1</text>
<text transform="translate(122.99,783.87) scale(0.1709,0.1670)" style="font-size:100px" fill="#000" stroke="#000" stroke-width="1.07">0</text>
<text transform="translate(133.27,783.87) scale(0.1709,0.1670)" style="font-size:100px" fill="#000" stroke="#000" stroke-width="1.07">0</text>
<text transform="translate(143.56,783.87) scale(0.1709,0.1670)" style="font-size:100px" fill="#000" stroke="#000" stroke-width="1.07">0</text>
<text transform="translate(229.49,784.79) scale(0.2125,0.1775)" style="font-size:100px" fill="#000" stroke="#000" stroke-width="0.93">−</text>
<text transform="translate(243.21,783.87) scale(0.1634,0.1666)" style="font-size:100px" fill="#000" stroke="#000" stroke-width="1.09">5</text>
<text transform="translate(253.41,783.87) scale(0.1737,0.1670)" style="font-size:100px" fill="#000" stroke="#000" stroke-width="1.06">0</text>
<text transform="translate(263.86,783.87) scale(0.1737,0.1670)" style="font-size:100px" fill="#000" stroke="#000" stroke-width="1.06">0</text>
<text transform="translate(371.61,783.87) scale(0.1717,0.1670)" style="font-size:100px" fill="#000" stroke="#000" stroke-width="1.06">0</text>
<text transform="translate(485.84,783.87) scale(0.1651,0.1666)" style="font-size:100px" fill="#000" stroke="#000" stroke-width="1.09">5</text>
<text transform="translate(496.15,783.87) scale(0.1756,0.1670)" style="font-size:100px" fill="#000" stroke="#000" stroke-width="1.05">0</text>
<text transform="translate(506.71,783.87) scale(0.1756,0.1670)" style="font-size:100px" fill="#000" stroke="#000" stroke-width="1.05">0</text>
<text transform="translate(606.18,783.80) scale(0.1622,0.1656)" style="font-size:100px" fill="#000" stroke="#000" stroke-width="1.10">1</text>
<text transform="translate(616.25,783.87) scale(0.1706,0.1670)" style="font-size:100px" fill="#000" stroke="#000" stroke-width="1.07">0</text>
<text transform="translate(626.51,783.87) scale(0.1706,0.1670)" style="font-size:100px" fill="#000" stroke="#000" stroke-width="1.07">0</text>
<text transform="translate(636.77,783.87) scale(0.1706,0.1670)" style="font-size:100px" fill="#000" stroke="#000" stroke-width="1.07">0</text>
<text transform="translate(298.26,803.55) scale(0.1706,0.1661)" style="font-style:italic;font-size:100px" fill="#000" stroke="#000" stroke-width="1.07">v</text>
<text transform="translate(307.49,806.35) scale(0.1218,0.1189)" style="font-size:100px" fill="#000" stroke="#000" stroke-width="1.50">L</text>
<text transform="translate(314.01,806.40) scale(0.1165,0.1199)" style="font-size:100px" fill="#000" stroke="#000" stroke-width="1.52">O</text>
<text transform="translate(323.06,806.40) scale(0.1055,0.1199)" style="font-size:100px" fill="#000" stroke="#000" stroke-width="1.60">S</text>
<text transform="translate(334.34,804.56) scale(0.2124,0.1821)" style="font-size:100px" fill="#000" stroke="#000" stroke-width="0.92">−</text>
<text transform="translate(350.86,803.55) scale(0.1706,0.1661)" style="font-style:italic;font-size:100px" fill="#000" stroke="#000" stroke-width="1.07">v</text>
<text transform="translate(360.50,806.10) scale(0.1085,0.1176)" style="font-size:100px" fill="#000" stroke="#000" stroke-width="1.59">s</text>
<text transform="translate(366.41,805.99) scale(0.1223,0.1150)" style="font-size:100px" fill="#000" stroke="#000" stroke-width="1.52">y</text>
<text transform="translate(373.15,806.10) scale(0.1085,0.1176)" style="font-size:100px" fill="#000" stroke="#000" stroke-width="1.59">s</text>
<text transform="translate(385.02,802.46) scale(0.1414,0.1527)" style="font-size:100px" fill="#000" stroke="#000" stroke-width="1.22">(</text>
<text transform="translate(391.17,803.55) scale(0.1850,0.1677)" style="font-size:100px" fill="#000" stroke="#000" stroke-width="1.02">k</text>
<text transform="translate(400.70,803.55) scale(0.1885,0.1667)" style="font-size:100px" fill="#000" stroke="#000" stroke-width="1.02">m</text>
<text transform="translate(422.28,803.62) scale(0.1574,0.1680)" style="font-size:100px" fill="#000" stroke="#000" stroke-width="1.11">s</text>
<text transform="translate(430.36,798.06) scale(0.1488,0.1274)" style="font-size:100px" fill="#000" stroke="#000" stroke-width="1.31">−</text>
<text transform="translate(439.93,797.35) scale(0.1157,0.1189)" style="font-size:100px" fill="#000" stroke="#000" stroke-width="1.53">1</text>
<text transform="translate(448.59,802.46) scale(0.1524,0.1527)" style="font-size:100px" fill="#000" stroke="#000" stroke-width="1.18">)</text>
<text transform="translate(12.60,653.84) rotate(-90) scale(0.1570,0.1699)" style="font-size:100px" fill="#000" stroke="#000" stroke-width="1.10">R</text>
<text transform="translate(12.67,642.61) rotate(-90) scale(0.1769,0.1680)" style="font-size:100px" fill="#000" stroke="#000" stroke-width="1.04">e</text>
<text transform="translate(12.60,633.00) rotate(-90) scale(0.1686,0.1677)" style="font-size:100px" fill="#000" stroke="#000" stroke-width="1.07">l</text>
<text transform="translate(12.67,628.51) rotate(-90) scale(0.1479,0.1680)" style="font-size:100px" fill="#000" stroke="#000" stroke-width="1.14">a</text>
<text transform="translate(12.47,618.70) rotate(-90) scale(0.2185,0.1723)" style="font-size:100px" fill="#000" stroke="#000" stroke-width="0.93">t</text>
<text transform="translate(12.60,611.97) rotate(-90) scale(0.1686,0.1677)" style="font-size:100px" fill="#000" stroke="#000" stroke-width="1.07">i</text>
<text transform="translate(12.60,607.44) rotate(-90) scale(0.1781,0.1661)" style="font-size:100px" fill="#000" stroke="#000" stroke-width="1.05">v</text>
<text transform="translate(12.67,597.99) rotate(-90) scale(0.1769,0.1680)" style="font-size:100px" fill="#000" stroke="#000" stroke-width="1.04">e</text>
<text transform="translate(12.60,582.42) rotate(-90) scale(0.1412,0.1699)" style="font-size:100px" fill="#000" stroke="#000" stroke-width="1.16">F</text>
<text transform="translate(12.60,573.01) rotate(-90) scale(0.1686,0.1677)" style="font-size:100px" fill="#000" stroke="#000" stroke-width="1.07">l</text>
<text transform="translate(12.67,568.63) rotate(-90) scale(0.1764,0.1674)" style="font-size:100px" fill="#000" stroke="#000" stroke-width="1.05">u</text>
<text transform="translate(12.60,558.22) rotate(-90) scale(0.1820,0.1661)" style="font-size:100px" fill="#000" stroke="#000" stroke-width="1.04">x</text>
</svg></body></html>
